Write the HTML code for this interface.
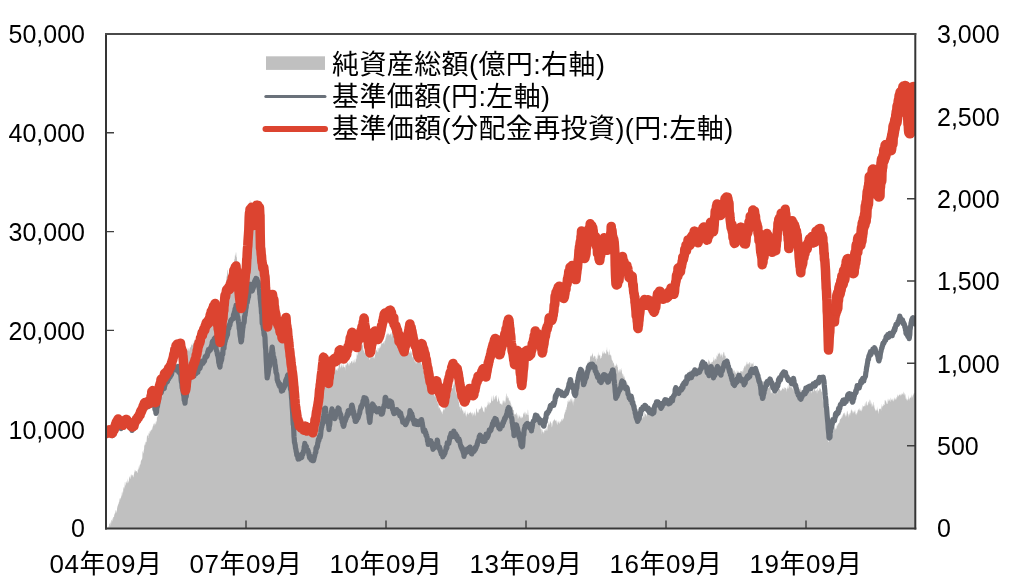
<!DOCTYPE html>
<html><head><meta charset="utf-8"><style>
html,body{margin:0;padding:0;background:#fff;}
body{width:1024px;height:588px;overflow:hidden;position:relative;}
svg{position:absolute;left:0;top:0;}
text{font-family:"Liberation Sans", "Noto Sans CJK JP", sans-serif;fill:#000;}
</style></head><body>
<svg width="1024" height="588" viewBox="0 0 1024 588">
<defs><clipPath id="pc"><rect x="106" y="34" width="809" height="494"/></clipPath></defs>
<g clip-path="url(#pc)">
<path d="M106.0 527.1L106.3 528.0L106.6 527.1L106.9 527.7L107.2 528.0L107.5 527.4L107.8 527.5L108.1 527.7L108.4 525.7L108.7 526.8L109.0 528.0L109.3 524.0L109.6 524.1L109.9 522.8L110.2 526.4L110.5 521.1L110.8 522.9L111.1 523.7L111.4 519.9L111.7 520.5L112.0 519.3L112.3 517.8L112.6 520.5L112.9 521.7L113.2 517.7L113.5 516.7L113.8 516.9L114.1 516.8L114.4 512.4L114.7 514.9L115.0 513.8L115.3 510.0L115.6 510.6L115.9 513.6L116.2 512.5L116.5 509.7L116.8 512.5L117.1 508.3L117.4 506.9L117.7 505.5L118.0 505.4L118.3 502.9L118.6 504.8L118.9 502.1L119.2 502.0L119.5 500.1L119.8 497.7L120.1 499.9L120.4 497.3L120.7 498.8L121.0 498.1L121.3 495.0L121.6 497.1L121.9 491.8L122.2 495.9L122.5 490.5L122.8 492.7L123.1 492.6L123.4 487.6L123.7 487.1L124.0 489.3L124.3 487.8L124.6 486.4L124.9 482.0L125.2 482.1L125.5 484.9L125.8 486.1L126.1 482.8L126.4 480.8L126.7 482.4L127.0 483.5L127.3 483.0L127.6 480.4L127.9 478.2L128.2 483.4L128.5 480.5L128.8 482.5L129.1 475.7L129.4 479.0L129.7 476.9L130.0 476.3L130.3 479.3L130.6 478.3L130.9 474.3L131.2 477.0L131.5 474.6L131.8 474.6L132.1 475.0L132.4 475.0L132.7 476.7L133.0 474.1L133.3 477.4L133.6 476.9L133.9 474.4L134.2 473.3L134.5 469.3L134.8 472.6L135.1 471.4L135.4 471.4L135.7 469.7L136.0 470.8L136.3 471.2L136.6 471.0L136.9 471.7L137.2 472.4L137.5 473.3L137.8 469.3L138.1 469.7L138.4 469.5L138.7 467.7L139.0 465.5L139.3 468.7L139.6 465.9L139.9 464.6L140.2 464.8L140.5 463.9L140.8 461.7L141.1 459.9L141.4 460.8L141.7 459.5L142.0 459.1L142.3 458.3L142.6 451.4L142.9 451.3L143.2 453.8L143.5 452.6L143.8 449.9L144.1 449.2L144.4 442.9L144.7 445.9L145.0 444.7L145.3 444.7L145.6 441.3L145.9 442.6L146.2 442.3L146.5 441.7L146.8 438.5L147.1 434.6L147.4 436.4L147.7 436.1L148.0 434.8L148.3 437.9L148.6 434.1L148.9 432.4L149.2 432.9L149.5 434.1L149.8 431.1L150.1 430.6L150.4 430.6L150.7 432.4L151.0 431.1L151.3 429.4L151.6 430.2L151.9 429.0L152.2 425.9L152.5 429.9L152.8 427.7L153.1 424.0L153.4 423.5L153.7 425.6L154.0 426.4L154.3 424.5L154.6 422.5L154.9 424.2L155.2 421.0L155.5 424.8L155.8 424.2L156.1 423.4L156.4 420.7L156.7 421.9L157.0 415.8L157.3 417.2L157.6 417.2L157.9 413.0L158.2 412.8L158.5 409.7L158.8 405.2L159.1 405.1L159.4 401.7L159.7 401.6L160.0 397.8L160.3 397.3L160.6 397.9L160.9 398.6L161.2 397.0L161.5 395.0L161.8 396.1L162.1 397.2L162.4 391.3L162.7 393.3L163.0 386.8L163.3 389.7L163.6 393.0L163.9 391.7L164.2 388.9L164.5 388.0L164.8 388.1L165.1 388.9L165.4 385.5L165.7 386.7L166.0 385.8L166.3 386.7L166.6 385.3L166.9 384.5L167.2 382.2L167.5 382.2L167.8 379.3L168.1 383.9L168.4 381.1L168.7 378.4L169.0 381.2L169.3 379.5L169.6 377.4L169.9 374.6L170.2 375.4L170.5 374.8L170.8 375.7L171.1 372.9L171.4 372.0L171.7 376.4L172.0 374.6L172.3 373.4L172.6 370.9L172.9 372.8L173.2 373.1L173.5 372.0L173.8 371.0L174.1 370.1L174.4 370.8L174.7 367.5L175.0 368.0L175.3 368.1L175.6 367.5L175.9 369.9L176.2 364.5L176.5 367.7L176.8 364.6L177.1 364.7L177.4 366.2L177.7 362.6L178.0 365.0L178.3 368.6L178.6 364.9L178.9 364.4L179.2 363.6L179.5 364.9L179.8 360.2L180.1 363.2L180.4 362.1L180.7 365.6L181.0 361.4L181.3 360.6L181.6 360.1L181.9 358.1L182.2 361.4L182.5 361.7L182.8 357.7L183.1 359.2L183.4 357.5L183.7 358.1L184.0 357.1L184.3 354.2L184.6 353.5L184.9 355.2L185.2 350.5L185.5 352.3L185.8 351.7L186.1 350.5L186.4 352.5L186.7 351.9L187.0 351.5L187.3 346.5L187.6 351.2L187.9 350.0L188.2 351.4L188.5 348.6L188.8 348.2L189.1 348.6L189.4 351.9L189.7 349.6L190.0 346.8L190.3 347.0L190.6 347.9L190.9 347.1L191.2 345.3L191.5 344.9L191.8 343.4L192.1 345.4L192.4 344.6L192.7 346.1L193.0 340.8L193.3 343.4L193.6 342.2L193.9 344.6L194.2 342.2L194.5 341.1L194.8 338.4L195.1 342.5L195.4 342.5L195.7 343.3L196.0 339.6L196.3 344.1L196.6 338.0L196.9 339.1L197.2 338.7L197.5 339.3L197.8 338.1L198.1 336.4L198.4 336.1L198.7 339.2L199.0 337.3L199.3 338.3L199.6 335.3L199.9 335.7L200.2 335.0L200.5 335.0L200.8 330.0L201.1 330.7L201.4 333.0L201.7 330.4L202.0 330.4L202.3 329.0L202.6 326.1L202.9 326.2L203.2 328.0L203.5 325.2L203.8 328.6L204.1 322.6L204.4 321.3L204.7 324.2L205.0 323.4L205.3 327.1L205.6 324.0L205.9 324.0L206.2 320.9L206.5 323.7L206.8 323.5L207.1 325.1L207.4 320.9L207.7 321.0L208.0 319.0L208.3 320.2L208.6 316.5L208.9 317.2L209.2 315.2L209.5 317.2L209.8 315.1L210.1 313.4L210.4 312.4L210.7 316.0L211.0 310.6L211.3 308.9L211.6 312.5L211.9 309.7L212.2 310.6L212.5 309.6L212.8 314.0L213.1 307.7L213.4 307.5L213.7 307.0L214.0 307.9L214.3 308.4L214.6 303.9L214.9 306.2L215.2 309.4L215.5 305.8L215.8 311.4L216.1 312.1L216.4 312.9L216.7 314.3L217.0 313.8L217.3 319.4L217.6 317.9L217.9 320.5L218.2 323.1L218.5 318.0L218.8 323.6L219.1 327.0L219.4 328.1L219.7 329.8L220.0 333.7L220.3 330.0L220.6 329.0L220.9 327.2L221.2 320.6L221.5 319.5L221.8 321.9L222.1 317.0L222.4 315.6L222.7 310.8L223.0 310.8L223.3 307.7L223.6 306.6L223.9 306.1L224.2 301.6L224.5 298.6L224.8 300.0L225.1 296.4L225.4 292.6L225.7 290.8L226.0 284.1L226.3 280.9L226.6 274.8L226.9 277.8L227.2 271.8L227.5 269.5L227.8 270.2L228.1 274.9L228.4 277.4L228.7 277.4L229.0 274.5L229.3 278.1L229.6 280.3L229.9 280.6L230.2 281.3L230.5 281.7L230.8 278.0L231.1 276.7L231.4 275.0L231.7 276.1L232.0 274.1L232.3 275.3L232.6 269.2L232.9 266.4L233.2 267.1L233.5 264.0L233.8 263.7L234.1 263.1L234.4 259.1L234.7 259.3L235.0 254.1L235.3 256.8L235.6 254.8L235.9 252.3L236.2 252.5L236.5 257.2L236.8 256.9L237.1 262.0L237.4 260.5L237.7 262.9L238.0 265.5L238.3 270.2L238.6 270.8L238.9 274.3L239.2 276.8L239.5 278.9L239.8 280.3L240.1 286.5L240.4 288.9L240.7 289.3L241.0 293.4L241.3 288.3L241.6 289.1L241.9 285.7L242.2 281.7L242.5 277.8L242.8 278.1L243.1 276.9L243.4 273.1L243.7 273.1L244.0 268.5L244.3 267.0L244.6 265.0L244.9 264.4L245.2 263.8L245.5 258.7L245.8 257.8L246.1 252.6L246.4 247.7L246.7 245.9L247.0 241.4L247.3 238.0L247.6 233.3L247.9 225.3L248.2 218.9L248.5 219.9L248.8 214.0L249.1 209.9L249.4 206.3L249.7 203.1L250.0 199.7L250.3 201.5L250.6 206.6L250.9 202.7L251.2 207.5L251.5 206.2L251.8 208.1L252.1 211.5L252.4 212.6L252.7 210.0L253.0 213.8L253.3 211.6L253.6 216.5L253.9 216.0L254.2 219.7L254.5 221.4L254.8 223.1L255.1 225.2L255.4 225.3L255.7 228.2L256.0 231.5L256.3 238.8L256.6 237.0L256.9 239.3L257.2 244.9L257.5 246.2L257.8 245.7L258.1 245.0L258.4 247.5L258.7 248.8L259.0 246.9L259.3 248.1L259.6 249.1L259.9 249.4L260.2 248.8L260.5 247.5L260.8 250.1L261.1 252.1L261.4 250.4L261.7 247.3L262.0 250.6L262.3 252.9L262.6 258.5L262.9 259.3L263.2 260.5L263.5 263.6L263.8 268.6L264.1 267.8L264.4 269.9L264.7 271.6L265.0 273.0L265.3 277.5L265.6 283.9L265.9 287.6L266.2 294.7L266.5 299.2L266.8 305.8L267.1 312.8L267.4 319.5L267.7 320.5L268.0 319.0L268.3 319.5L268.6 318.1L268.9 317.5L269.2 312.6L269.5 314.3L269.8 314.0L270.1 310.1L270.4 310.0L270.7 308.5L271.0 307.2L271.3 302.4L271.6 303.8L271.9 300.0L272.2 299.4L272.5 299.9L272.8 304.0L273.1 305.5L273.4 305.7L273.7 308.3L274.0 307.1L274.3 307.9L274.6 309.0L274.9 314.0L275.2 314.6L275.5 316.3L275.8 317.5L276.1 322.1L276.4 320.0L276.7 320.0L277.0 326.1L277.3 327.1L277.6 326.9L277.9 325.4L278.2 327.9L278.5 327.8L278.8 327.7L279.1 328.2L279.4 328.6L279.7 332.2L280.0 330.0L280.3 332.2L280.6 333.3L280.9 336.3L281.2 335.7L281.5 338.3L281.8 337.4L282.1 342.1L282.4 337.7L282.7 335.2L283.0 332.8L283.3 331.0L283.6 331.6L283.9 329.9L284.2 326.9L284.5 324.8L284.8 322.7L285.1 326.3L285.4 324.7L285.7 315.8L286.0 318.8L286.3 320.9L286.6 325.9L286.9 332.2L287.2 330.5L287.5 334.6L287.8 342.5L288.1 339.9L288.4 341.6L288.7 346.0L289.0 347.7L289.3 349.9L289.6 352.7L289.9 356.0L290.2 353.9L290.5 358.4L290.8 361.9L291.1 366.6L291.4 367.1L291.7 371.6L292.0 373.6L292.3 376.6L292.6 381.1L292.9 381.0L293.2 388.7L293.5 388.2L293.8 392.4L294.1 397.2L294.4 398.0L294.7 400.7L295.0 406.7L295.3 408.5L295.6 410.9L295.9 414.1L296.2 415.9L296.5 419.9L296.8 420.3L297.1 420.6L297.4 423.2L297.7 422.4L298.0 427.0L298.3 426.1L298.6 431.4L298.9 430.0L299.2 429.9L299.5 431.5L299.8 429.3L300.1 425.8L300.4 428.2L300.7 428.4L301.0 428.8L301.3 429.5L301.6 428.9L301.9 429.4L302.2 428.6L302.5 428.2L302.8 426.7L303.1 429.4L303.4 426.9L303.7 429.8L304.0 430.5L304.3 429.3L304.6 426.3L304.9 429.8L305.2 427.3L305.5 428.0L305.8 433.6L306.1 429.1L306.4 430.9L306.7 428.1L307.0 425.1L307.3 429.9L307.6 430.1L307.9 429.7L308.2 430.1L308.5 427.0L308.8 430.6L309.1 432.8L309.4 433.0L309.7 429.7L310.0 429.3L310.3 430.2L310.6 429.7L310.9 429.1L311.2 430.3L311.5 434.5L311.8 429.0L312.1 426.8L312.4 429.5L312.7 426.4L313.0 427.2L313.3 425.5L313.6 426.5L313.9 425.7L314.2 424.8L314.5 426.8L314.8 425.3L315.1 423.1L315.4 421.0L315.7 416.9L316.0 416.3L316.3 414.6L316.6 411.9L316.9 404.3L317.2 405.3L317.5 405.6L317.8 402.3L318.1 401.4L318.4 399.3L318.7 399.4L319.0 393.6L319.3 393.6L319.6 389.8L319.9 392.9L320.2 389.1L320.5 388.5L320.8 382.9L321.1 378.7L321.4 379.7L321.7 373.7L322.0 373.9L322.3 372.1L322.6 370.5L322.9 371.7L323.2 369.1L323.5 368.2L323.8 369.2L324.1 368.0L324.4 371.7L324.7 371.9L325.0 374.8L325.3 376.9L325.6 371.8L325.9 372.0L326.2 373.1L326.5 373.8L326.8 373.2L327.1 370.5L327.4 378.2L327.7 373.3L328.0 371.8L328.3 369.4L328.6 375.3L328.9 373.0L329.2 373.4L329.5 372.3L329.8 374.8L330.1 374.3L330.4 369.8L330.7 377.9L331.0 373.4L331.3 372.7L331.6 372.7L331.9 373.5L332.2 377.8L332.5 374.2L332.8 371.6L333.1 374.0L333.4 373.4L333.7 373.4L334.0 371.8L334.3 371.3L334.6 372.0L334.9 370.5L335.2 367.9L335.5 369.1L335.8 370.8L336.1 369.3L336.4 370.6L336.7 368.7L337.0 371.1L337.3 370.7L337.6 369.1L337.9 367.8L338.2 368.8L338.5 368.2L338.8 364.8L339.1 362.5L339.4 363.8L339.7 359.9L340.0 362.5L340.3 366.7L340.6 367.0L340.9 368.7L341.2 365.9L341.5 365.5L341.8 363.3L342.1 364.5L342.4 365.9L342.7 368.3L343.0 366.5L343.3 362.4L343.6 366.6L343.9 366.9L344.2 367.1L344.5 367.5L344.8 367.6L345.1 364.9L345.4 364.6L345.7 371.1L346.0 364.1L346.3 365.8L346.6 365.1L346.9 360.6L347.2 364.0L347.5 362.2L347.8 363.4L348.1 361.9L348.4 366.6L348.7 362.9L349.0 364.9L349.3 364.1L349.6 360.4L349.9 366.6L350.2 362.8L350.5 363.1L350.8 363.1L351.1 361.3L351.4 361.0L351.7 362.1L352.0 360.7L352.3 362.8L352.6 364.1L352.9 360.2L353.2 360.0L353.5 362.1L353.8 362.6L354.1 363.6L354.4 360.7L354.7 358.5L355.0 363.7L355.3 361.4L355.6 362.1L355.9 358.1L356.2 359.8L356.5 358.1L356.8 352.7L357.1 355.7L357.4 355.1L357.7 352.9L358.0 351.0L358.3 351.5L358.6 348.8L358.9 346.6L359.2 346.8L359.5 347.9L359.8 346.4L360.1 346.9L360.4 343.5L360.7 341.2L361.0 337.3L361.3 342.1L361.6 341.6L361.9 346.7L362.2 341.6L362.5 345.6L362.8 345.0L363.1 346.5L363.4 351.4L363.7 350.1L364.0 350.4L364.3 353.9L364.6 350.4L364.9 353.3L365.2 350.0L365.5 352.8L365.8 352.5L366.1 353.8L366.4 352.0L366.7 352.9L367.0 357.0L367.3 357.1L367.6 355.6L367.9 354.7L368.2 353.5L368.5 356.0L368.8 356.3L369.1 355.9L369.4 358.3L369.7 359.9L370.0 359.6L370.3 358.1L370.6 357.1L370.9 357.6L371.2 357.0L371.5 355.9L371.8 358.5L372.1 356.5L372.4 354.7L372.7 357.8L373.0 357.6L373.3 358.6L373.6 356.2L373.9 356.6L374.2 359.3L374.5 356.7L374.8 356.5L375.1 352.6L375.4 355.3L375.7 352.8L376.0 351.7L376.3 350.1L376.6 349.6L376.9 350.5L377.2 352.3L377.5 352.1L377.8 347.6L378.1 348.1L378.4 348.1L378.7 352.9L379.0 347.5L379.3 348.1L379.6 349.5L379.9 345.1L380.2 347.4L380.5 344.1L380.8 348.5L381.1 344.9L381.4 342.9L381.7 342.2L382.0 343.8L382.3 343.5L382.6 342.6L382.9 344.2L383.2 341.1L383.5 342.8L383.8 342.5L384.1 344.7L384.4 341.4L384.7 340.9L385.0 340.5L385.3 340.6L385.6 335.8L385.9 339.5L386.2 336.4L386.5 334.0L386.8 335.0L387.1 332.0L387.4 334.1L387.7 333.9L388.0 336.5L388.3 334.1L388.6 333.8L388.9 332.8L389.2 335.4L389.5 333.7L389.8 335.5L390.1 334.7L390.4 334.1L390.7 333.7L391.0 332.3L391.3 334.5L391.6 338.0L391.9 332.2L392.2 331.8L392.5 334.3L392.8 334.1L393.1 333.7L393.4 336.4L393.7 335.5L394.0 335.6L394.3 334.1L394.6 335.2L394.9 336.6L395.2 334.1L395.5 334.6L395.8 336.7L396.1 334.2L396.4 339.7L396.7 336.5L397.0 336.7L397.3 339.3L397.6 340.9L397.9 338.5L398.2 339.0L398.5 340.2L398.8 343.3L399.1 342.8L399.4 349.8L399.7 347.3L400.0 339.8L400.3 342.9L400.6 346.0L400.9 349.7L401.2 343.9L401.5 347.3L401.8 349.8L402.1 346.2L402.4 346.9L402.7 348.1L403.0 350.8L403.3 348.4L403.6 350.0L403.9 347.5L404.2 351.3L404.5 350.7L404.8 348.0L405.1 348.6L405.4 348.8L405.7 348.9L406.0 350.3L406.3 351.7L406.6 351.3L406.9 351.4L407.2 349.9L407.5 349.5L407.8 352.9L408.1 351.8L408.4 355.0L408.7 352.6L409.0 352.7L409.3 352.6L409.6 353.0L409.9 351.2L410.2 350.2L410.5 351.4L410.8 354.5L411.1 351.1L411.4 352.5L411.7 353.3L412.0 356.5L412.3 358.4L412.6 355.7L412.9 357.2L413.2 356.3L413.5 356.0L413.8 357.1L414.1 357.2L414.4 360.5L414.7 362.3L415.0 359.5L415.3 358.8L415.6 363.9L415.9 361.3L416.2 364.5L416.5 358.2L416.8 363.7L417.1 361.2L417.4 361.5L417.7 362.7L418.0 362.4L418.3 358.0L418.6 359.4L418.9 353.6L419.2 357.4L419.5 358.4L419.8 357.5L420.1 361.8L420.4 361.2L420.7 363.3L421.0 361.5L421.3 363.4L421.6 364.7L421.9 365.1L422.2 366.1L422.5 367.3L422.8 367.5L423.1 368.5L423.4 370.4L423.7 371.7L424.0 371.1L424.3 374.9L424.6 376.0L424.9 373.7L425.2 376.4L425.5 377.4L425.8 377.8L426.1 383.1L426.4 380.3L426.7 381.9L427.0 380.6L427.3 382.2L427.6 384.3L427.9 383.7L428.2 384.1L428.5 385.4L428.8 385.1L429.1 386.6L429.4 389.6L429.7 388.4L430.0 387.6L430.3 385.8L430.6 386.9L430.9 387.7L431.2 392.3L431.5 387.6L431.8 390.8L432.1 390.2L432.4 393.5L432.7 392.3L433.0 390.8L433.3 390.3L433.6 394.7L433.9 392.5L434.2 396.2L434.5 396.7L434.8 393.9L435.1 395.6L435.4 397.6L435.7 395.4L436.0 396.2L436.3 398.0L436.6 400.2L436.9 401.2L437.2 399.5L437.5 402.7L437.8 403.7L438.1 403.3L438.4 403.4L438.7 406.6L439.0 409.6L439.3 407.4L439.6 407.8L439.9 406.9L440.2 408.9L440.5 410.4L440.8 409.9L441.1 411.2L441.4 411.6L441.7 411.9L442.0 413.5L442.3 414.6L442.6 410.8L442.9 412.5L443.2 406.7L443.5 411.1L443.8 409.4L444.1 408.7L444.4 410.8L444.7 407.9L445.0 407.4L445.3 405.9L445.6 407.3L445.9 403.4L446.2 403.1L446.5 402.6L446.8 406.7L447.1 400.9L447.4 399.3L447.7 400.9L448.0 399.1L448.3 395.3L448.6 398.6L448.9 395.9L449.2 396.9L449.5 394.4L449.8 394.0L450.1 391.0L450.4 395.3L450.7 390.7L451.0 391.4L451.3 392.8L451.6 388.7L451.9 387.8L452.2 389.1L452.5 387.6L452.8 388.5L453.1 384.2L453.4 384.9L453.7 387.3L454.0 380.2L454.3 382.9L454.6 385.0L454.9 382.7L455.2 385.8L455.5 388.7L455.8 393.2L456.1 391.3L456.4 395.3L456.7 394.0L457.0 394.6L457.3 395.1L457.6 394.4L457.9 396.8L458.2 397.1L458.5 400.9L458.8 401.7L459.1 403.2L459.4 405.8L459.7 407.6L460.0 406.4L460.3 406.3L460.6 411.2L460.9 406.5L461.2 406.5L461.5 408.6L461.8 408.0L462.1 411.1L462.4 408.9L462.7 411.6L463.0 409.4L463.3 411.6L463.6 412.5L463.9 414.4L464.2 412.2L464.5 413.7L464.8 411.3L465.1 410.0L465.4 412.0L465.7 414.5L466.0 416.4L466.3 413.8L466.6 417.7L466.9 413.8L467.2 414.2L467.5 413.0L467.8 411.3L468.1 415.6L468.4 413.0L468.7 414.9L469.0 412.1L469.3 413.4L469.6 412.9L469.9 412.7L470.2 412.1L470.5 413.4L470.8 411.0L471.1 412.8L471.4 414.9L471.7 412.4L472.0 413.5L472.3 411.7L472.6 413.7L472.9 416.7L473.2 415.1L473.5 414.5L473.8 412.9L474.1 413.8L474.4 410.9L474.7 412.7L475.0 416.7L475.3 411.7L475.6 416.4L475.9 414.3L476.2 409.4L476.5 408.4L476.8 408.2L477.1 411.6L477.4 412.1L477.7 413.4L478.0 410.9L478.3 413.2L478.6 412.1L478.9 408.9L479.2 410.0L479.5 409.0L479.8 409.6L480.1 409.0L480.4 407.9L480.7 409.5L481.0 407.1L481.3 405.5L481.6 406.8L481.9 407.9L482.2 407.3L482.5 408.0L482.8 408.9L483.1 411.5L483.4 412.1L483.7 409.9L484.0 412.5L484.3 412.3L484.6 408.8L484.9 406.0L485.2 408.1L485.5 407.2L485.8 407.3L486.1 405.4L486.4 409.5L486.7 406.3L487.0 407.0L487.3 404.8L487.6 405.6L487.9 401.2L488.2 404.3L488.5 400.6L488.8 405.8L489.1 402.5L489.4 402.1L489.7 405.6L490.0 403.7L490.3 402.7L490.6 403.1L490.9 402.2L491.2 400.4L491.5 398.8L491.8 395.3L492.1 400.9L492.4 401.2L492.7 401.3L493.0 394.8L493.3 395.7L493.6 397.3L493.9 401.1L494.2 399.3L494.5 399.2L494.8 397.3L495.1 396.3L495.4 395.6L495.7 396.7L496.0 399.4L496.3 395.6L496.6 394.7L496.9 398.4L497.2 400.5L497.5 402.1L497.8 401.7L498.1 400.3L498.4 396.1L498.7 398.2L499.0 399.3L499.3 401.4L499.6 400.7L499.9 404.1L500.2 403.7L500.5 403.6L500.8 403.4L501.1 404.0L501.4 404.4L501.7 404.9L502.0 402.3L502.3 405.8L502.6 402.8L502.9 400.1L503.2 401.4L503.5 399.4L503.8 402.2L504.1 403.8L504.4 401.2L504.7 401.4L505.0 399.5L505.3 403.5L505.6 401.0L505.9 395.6L506.2 398.8L506.5 394.3L506.8 392.9L507.1 395.9L507.4 396.0L507.7 398.9L508.0 397.0L508.3 397.7L508.6 398.3L508.9 400.3L509.2 402.0L509.5 400.4L509.8 400.3L510.1 400.4L510.4 402.8L510.7 402.7L511.0 407.2L511.3 407.2L511.6 403.4L511.9 406.5L512.2 406.6L512.5 407.0L512.8 408.2L513.1 409.9L513.4 410.0L513.7 410.3L514.0 411.9L514.3 415.8L514.6 413.8L514.9 414.4L515.2 413.8L515.5 415.1L515.8 413.9L516.1 412.9L516.4 412.3L516.7 414.6L517.0 416.4L517.3 413.8L517.6 415.5L517.9 419.0L518.2 417.4L518.5 414.1L518.8 419.3L519.1 416.8L519.4 414.2L519.7 417.0L520.0 416.3L520.3 418.4L520.6 415.8L520.9 418.8L521.2 415.8L521.5 418.1L521.8 418.8L522.1 416.3L522.4 417.2L522.7 418.3L523.0 416.6L523.3 412.1L523.6 414.5L523.9 412.9L524.2 415.4L524.5 411.1L524.8 413.4L525.1 412.1L525.4 417.6L525.7 411.3L526.0 414.8L526.3 412.4L526.6 413.7L526.9 415.1L527.2 414.9L527.5 414.4L527.8 409.5L528.1 410.0L528.4 415.1L528.7 414.9L529.0 419.7L529.3 424.3L529.6 423.6L529.9 426.6L530.2 427.4L530.5 426.7L530.8 426.7L531.1 426.3L531.4 427.4L531.7 426.4L532.0 425.4L532.3 424.8L532.6 423.2L532.9 424.3L533.2 425.0L533.5 427.5L533.8 421.7L534.1 423.0L534.4 424.7L534.7 424.9L535.0 423.2L535.3 425.0L535.6 418.6L535.9 420.0L536.2 418.6L536.5 418.9L536.8 420.1L537.1 415.0L537.4 418.5L537.7 416.5L538.0 417.2L538.3 416.1L538.6 419.0L538.9 420.9L539.2 425.0L539.5 421.6L539.8 425.0L540.1 426.2L540.4 426.0L540.7 429.8L541.0 427.9L541.3 429.2L541.6 429.2L541.9 434.7L542.2 429.6L542.5 429.8L542.8 432.6L543.1 431.5L543.4 432.1L543.7 432.8L544.0 434.1L544.3 430.5L544.6 430.5L544.9 430.1L545.2 430.7L545.5 430.8L545.8 428.4L546.1 428.7L546.4 431.6L546.7 427.0L547.0 430.9L547.3 430.0L547.6 425.4L547.9 427.0L548.2 423.5L548.5 425.1L548.8 421.1L549.1 425.5L549.4 422.5L549.7 425.3L550.0 420.5L550.3 423.0L550.6 420.8L550.9 422.6L551.2 423.0L551.5 423.7L551.8 427.4L552.1 426.4L552.4 424.4L552.7 421.9L553.0 421.0L553.3 420.1L553.6 420.4L553.9 422.1L554.2 419.5L554.5 420.0L554.8 418.4L555.1 419.9L555.4 421.6L555.7 420.0L556.0 421.3L556.3 419.4L556.6 422.0L556.9 423.5L557.2 425.2L557.5 423.3L557.8 420.9L558.1 422.3L558.4 423.0L558.7 420.2L559.0 423.0L559.3 424.1L559.6 420.6L559.9 423.7L560.2 422.1L560.5 421.3L560.8 422.0L561.1 419.2L561.4 421.9L561.7 419.1L562.0 418.9L562.3 420.9L562.6 417.5L562.9 421.4L563.2 418.5L563.5 418.7L563.8 418.2L564.1 415.2L564.4 414.2L564.7 413.2L565.0 411.8L565.3 412.4L565.6 410.1L565.9 409.2L566.2 410.6L566.5 407.0L566.8 407.4L567.1 404.7L567.4 404.1L567.7 401.2L568.0 400.4L568.3 402.5L568.6 402.2L568.9 398.9L569.2 400.7L569.5 402.2L569.8 400.6L570.1 398.8L570.4 398.9L570.7 403.0L571.0 396.8L571.3 399.4L571.6 401.7L571.9 397.9L572.2 402.9L572.5 397.8L572.8 402.6L573.1 405.9L573.4 398.7L573.7 401.0L574.0 402.4L574.3 399.1L574.6 398.7L574.9 395.4L575.2 396.8L575.5 395.3L575.8 394.4L576.1 394.0L576.4 393.1L576.7 390.2L577.0 387.9L577.3 386.0L577.6 385.7L577.9 386.3L578.2 386.9L578.5 384.6L578.8 385.0L579.1 383.2L579.4 381.5L579.7 379.4L580.0 381.0L580.3 379.6L580.6 379.2L580.9 377.6L581.2 378.4L581.5 378.3L581.8 378.9L582.1 374.5L582.4 378.9L582.7 376.4L583.0 374.3L583.3 373.2L583.6 374.8L583.9 373.0L584.2 368.1L584.5 371.8L584.8 371.6L585.1 371.7L585.4 370.1L585.7 371.8L586.0 369.3L586.3 369.5L586.6 370.8L586.9 367.5L587.2 366.5L587.5 366.4L587.8 361.9L588.1 361.2L588.4 363.6L588.7 362.6L589.0 359.9L589.3 363.3L589.6 362.5L589.9 359.7L590.2 356.2L590.5 356.8L590.8 355.0L591.1 357.6L591.4 355.0L591.7 356.5L592.0 354.8L592.3 352.2L592.6 355.5L592.9 353.3L593.2 358.0L593.5 357.8L593.8 356.4L594.1 355.4L594.4 355.7L594.7 356.3L595.0 356.9L595.3 355.8L595.6 359.3L595.9 359.0L596.2 357.2L596.5 359.0L596.8 362.3L597.1 358.4L597.4 359.3L597.7 355.7L598.0 354.2L598.3 356.2L598.6 351.6L598.9 356.3L599.2 355.9L599.5 354.2L599.8 355.4L600.1 355.1L600.4 357.9L600.7 359.1L601.0 357.9L601.3 358.1L601.6 355.9L601.9 356.1L602.2 350.5L602.5 354.9L602.8 352.7L603.1 350.0L603.4 354.6L603.7 352.8L604.0 353.8L604.3 351.2L604.6 352.2L604.9 353.7L605.2 353.4L605.5 354.1L605.8 352.7L606.1 354.6L606.4 349.7L606.7 350.4L607.0 346.6L607.3 351.9L607.6 351.2L607.9 352.3L608.2 354.6L608.5 355.8L608.8 351.3L609.1 352.4L609.4 348.7L609.7 355.0L610.0 355.0L610.3 353.9L610.6 355.4L610.9 355.5L611.2 355.6L611.5 358.1L611.8 359.8L612.1 360.7L612.4 361.1L612.7 359.5L613.0 364.7L613.3 362.3L613.6 363.2L613.9 362.0L614.2 366.7L614.5 366.9L614.8 364.1L615.1 366.9L615.4 364.6L615.7 366.6L616.0 365.8L616.3 363.0L616.6 364.2L616.9 366.3L617.2 364.4L617.5 366.9L617.8 367.0L618.1 370.6L618.4 369.9L618.7 372.1L619.0 373.3L619.3 368.6L619.6 372.5L619.9 369.0L620.2 369.2L620.5 372.9L620.8 370.0L621.1 367.5L621.4 370.2L621.7 370.3L622.0 373.6L622.3 373.6L622.6 373.8L622.9 376.2L623.2 373.5L623.5 376.7L623.8 376.5L624.1 379.2L624.4 375.5L624.7 377.2L625.0 378.5L625.3 383.0L625.6 378.9L625.9 380.6L626.2 383.7L626.5 384.4L626.8 383.1L627.1 384.8L627.4 381.7L627.7 388.1L628.0 385.5L628.3 387.9L628.6 392.5L628.9 387.6L629.2 389.1L629.5 389.7L629.8 394.5L630.1 392.1L630.4 392.0L630.7 393.7L631.0 394.9L631.3 397.2L631.6 397.7L631.9 398.7L632.2 400.6L632.5 400.0L632.8 399.7L633.1 403.8L633.4 404.9L633.7 405.3L634.0 405.3L634.3 407.6L634.6 405.7L634.9 409.5L635.2 410.0L635.5 408.0L635.8 411.1L636.1 411.2L636.4 411.8L636.7 413.1L637.0 410.8L637.3 416.6L637.6 414.8L637.9 417.2L638.2 419.3L638.5 415.4L638.8 414.9L639.1 417.4L639.4 418.9L639.7 418.2L640.0 414.3L640.3 421.6L640.6 418.0L640.9 420.0L641.2 416.3L641.5 417.5L641.8 418.7L642.1 415.8L642.4 419.7L642.7 416.8L643.0 417.8L643.3 416.7L643.6 414.4L643.9 416.3L644.2 417.8L644.5 414.2L644.8 410.8L645.1 414.1L645.4 413.8L645.7 415.1L646.0 413.7L646.3 416.9L646.6 415.5L646.9 414.5L647.2 412.5L647.5 411.4L647.8 412.5L648.1 412.3L648.4 412.3L648.7 412.7L649.0 411.3L649.3 412.6L649.6 413.2L649.9 413.0L650.2 411.3L650.5 413.9L650.8 414.3L651.1 412.9L651.4 411.5L651.7 413.0L652.0 410.9L652.3 417.0L652.6 412.7L652.9 413.1L653.2 409.9L653.5 411.4L653.8 413.0L654.1 411.4L654.4 412.6L654.7 410.2L655.0 410.9L655.3 409.1L655.6 407.4L655.9 405.5L656.2 405.9L656.5 404.2L656.8 407.6L657.1 405.7L657.4 406.0L657.7 404.8L658.0 406.8L658.3 403.4L658.6 407.1L658.9 404.4L659.2 401.6L659.5 401.5L659.8 402.9L660.1 402.7L660.4 400.4L660.7 401.1L661.0 404.9L661.3 402.6L661.6 402.1L661.9 405.2L662.2 403.1L662.5 400.9L662.8 398.9L663.1 402.9L663.4 400.5L663.7 403.5L664.0 399.3L664.3 400.6L664.6 401.7L664.9 401.1L665.2 402.3L665.5 401.3L665.8 402.5L666.1 399.2L666.4 400.6L666.7 402.1L667.0 402.1L667.3 402.4L667.6 399.3L667.9 398.4L668.2 398.4L668.5 399.0L668.8 397.3L669.1 400.7L669.4 398.8L669.7 399.8L670.0 398.8L670.3 400.3L670.6 402.7L670.9 399.8L671.2 399.6L671.5 398.7L671.8 398.7L672.1 395.1L672.4 397.5L672.7 397.3L673.0 396.5L673.3 396.5L673.6 392.7L673.9 390.8L674.2 391.2L674.5 395.2L674.8 392.7L675.1 390.9L675.4 391.2L675.7 391.3L676.0 393.3L676.3 390.8L676.6 391.8L676.9 394.8L677.2 395.2L677.5 393.6L677.8 389.9L678.1 388.2L678.4 391.4L678.7 393.2L679.0 389.1L679.3 388.6L679.6 383.1L679.9 391.1L680.2 385.5L680.5 384.1L680.8 386.0L681.1 383.7L681.4 385.8L681.7 386.9L682.0 382.3L682.3 383.2L682.6 382.6L682.9 382.4L683.2 384.7L683.5 385.5L683.8 382.9L684.1 381.1L684.4 381.0L684.7 380.7L685.0 381.3L685.3 377.6L685.6 379.3L685.9 382.3L686.2 378.1L686.5 379.6L686.8 378.5L687.1 378.6L687.4 375.8L687.7 380.0L688.0 376.8L688.3 376.0L688.6 375.6L688.9 371.6L689.2 372.1L689.5 372.1L689.8 369.2L690.1 372.4L690.4 374.7L690.7 370.2L691.0 372.1L691.3 373.1L691.6 372.1L691.9 372.4L692.2 370.9L692.5 374.0L692.8 370.0L693.1 374.1L693.4 371.1L693.7 371.1L694.0 371.9L694.3 375.4L694.6 370.9L694.9 369.1L695.2 372.9L695.5 370.7L695.8 370.5L696.1 370.8L696.4 372.9L696.7 370.5L697.0 366.3L697.3 368.8L697.6 370.0L697.9 367.6L698.2 368.7L698.5 371.1L698.8 370.2L699.1 366.9L699.4 370.1L699.7 369.6L700.0 367.3L700.3 368.5L700.6 366.2L700.9 365.7L701.2 368.2L701.5 365.7L701.8 365.2L702.1 367.1L702.4 364.8L702.7 365.8L703.0 366.9L703.3 367.3L703.6 367.4L703.9 364.9L704.2 364.0L704.5 363.7L704.8 366.3L705.1 366.2L705.4 365.0L705.7 367.1L706.0 365.9L706.3 363.3L706.6 366.5L706.9 368.3L707.2 364.9L707.5 361.7L707.8 365.5L708.1 363.0L708.4 360.6L708.7 359.1L709.0 360.9L709.3 360.5L709.6 361.9L709.9 362.4L710.2 365.3L710.5 362.1L710.8 363.6L711.1 361.7L711.4 362.4L711.7 363.5L712.0 361.2L712.3 362.0L712.6 361.6L712.9 362.5L713.2 360.3L713.5 360.2L713.8 356.7L714.1 358.1L714.4 361.9L714.7 358.8L715.0 360.9L715.3 359.0L715.6 358.5L715.9 358.7L716.2 360.2L716.5 357.2L716.8 355.1L717.1 355.8L717.4 357.0L717.7 356.1L718.0 352.0L718.3 354.8L718.6 354.1L718.9 353.4L719.2 352.0L719.5 354.1L719.8 353.3L720.1 353.5L720.4 357.6L720.7 355.2L721.0 354.1L721.3 355.6L721.6 355.7L721.9 352.6L722.2 356.9L722.5 357.9L722.8 353.7L723.1 355.5L723.4 352.0L723.7 352.7L724.0 351.6L724.3 353.2L724.6 355.6L724.9 356.1L725.2 355.5L725.5 355.7L725.8 359.0L726.1 360.3L726.4 357.3L726.7 358.4L727.0 358.6L727.3 358.6L727.6 357.9L727.9 359.9L728.2 362.9L728.5 363.8L728.8 364.7L729.1 368.3L729.4 367.0L729.7 366.5L730.0 367.9L730.3 371.3L730.6 369.8L730.9 367.4L731.2 371.0L731.5 371.7L731.8 369.2L732.1 371.7L732.4 368.0L732.7 368.4L733.0 371.1L733.3 371.7L733.6 370.7L733.9 369.6L734.2 370.5L734.5 373.7L734.8 370.1L735.1 371.4L735.4 374.2L735.7 371.4L736.0 373.9L736.3 373.8L736.6 374.8L736.9 369.8L737.2 372.4L737.5 370.0L737.8 372.9L738.1 370.4L738.4 371.8L738.7 375.2L739.0 375.5L739.3 375.4L739.6 376.8L739.9 374.6L740.2 371.2L740.5 371.8L740.8 370.8L741.1 370.9L741.4 370.9L741.7 371.8L742.0 371.4L742.3 372.4L742.6 370.7L742.9 370.1L743.2 371.7L743.5 368.5L743.8 368.3L744.1 366.9L744.4 365.6L744.7 366.1L745.0 368.2L745.3 365.8L745.6 364.2L745.9 366.8L746.2 364.7L746.5 364.1L746.8 361.7L747.1 361.6L747.4 364.7L747.7 364.0L748.0 363.6L748.3 365.0L748.6 363.5L748.9 363.1L749.2 361.8L749.5 362.3L749.8 363.4L750.1 366.7L750.4 366.3L750.7 362.6L751.0 363.1L751.3 364.5L751.6 362.4L751.9 365.5L752.2 364.0L752.5 363.6L752.8 363.8L753.1 361.8L753.4 364.1L753.7 366.5L754.0 369.7L754.3 369.4L754.6 368.9L754.9 367.5L755.2 368.4L755.5 369.9L755.8 371.0L756.1 367.9L756.4 368.4L756.7 368.8L757.0 372.2L757.3 369.6L757.6 371.7L757.9 375.8L758.2 374.2L758.5 375.8L758.8 372.5L759.1 378.1L759.4 376.5L759.7 377.3L760.0 377.4L760.3 378.3L760.6 379.7L760.9 378.0L761.2 381.1L761.5 376.3L761.8 379.1L762.1 381.1L762.4 381.0L762.7 383.5L763.0 381.4L763.3 381.3L763.6 380.7L763.9 386.1L764.2 384.1L764.5 386.5L764.8 381.8L765.1 387.6L765.4 386.4L765.7 385.8L766.0 386.5L766.3 387.5L766.6 388.1L766.9 386.1L767.2 386.7L767.5 386.2L767.8 388.7L768.1 387.1L768.4 388.0L768.7 388.0L769.0 388.7L769.3 386.1L769.6 386.8L769.9 386.0L770.2 387.8L770.5 393.9L770.8 387.2L771.1 389.9L771.4 393.0L771.7 392.4L772.0 393.8L772.3 392.4L772.6 392.9L772.9 391.5L773.2 390.2L773.5 393.0L773.8 392.9L774.1 395.7L774.4 387.9L774.7 387.8L775.0 391.1L775.3 391.5L775.6 392.7L775.9 388.5L776.2 390.6L776.5 386.8L776.8 393.5L777.1 386.3L777.4 394.0L777.7 391.4L778.0 388.0L778.3 389.2L778.6 391.0L778.9 389.4L779.2 388.0L779.5 389.5L779.8 388.6L780.1 391.0L780.4 391.3L780.7 390.1L781.0 389.4L781.3 391.0L781.6 389.8L781.9 389.7L782.2 387.2L782.5 389.6L782.8 388.0L783.1 389.4L783.4 389.1L783.7 388.7L784.0 386.6L784.3 390.4L784.6 387.2L784.9 387.4L785.2 387.8L785.5 388.5L785.8 387.6L786.1 388.9L786.4 388.3L786.7 392.3L787.0 389.0L787.3 388.5L787.6 385.4L787.9 388.4L788.2 388.2L788.5 388.7L788.8 383.7L789.1 385.6L789.4 387.6L789.7 383.5L790.0 383.4L790.3 386.4L790.6 388.2L790.9 384.3L791.2 385.6L791.5 388.3L791.8 386.5L792.1 388.7L792.4 386.2L792.7 389.7L793.0 388.9L793.3 390.8L793.6 385.8L793.9 387.2L794.2 386.5L794.5 386.3L794.8 387.0L795.1 389.9L795.4 388.4L795.7 389.1L796.0 388.5L796.3 389.2L796.6 389.8L796.9 388.5L797.2 387.6L797.5 386.7L797.8 388.4L798.1 387.3L798.4 387.2L798.7 387.0L799.0 388.5L799.3 389.3L799.6 391.8L799.9 388.3L800.2 391.7L800.5 386.9L800.8 389.2L801.1 393.2L801.4 389.6L801.7 390.6L802.0 390.0L802.3 395.8L802.6 393.3L802.9 392.0L803.2 392.1L803.5 389.2L803.8 394.0L804.1 397.6L804.4 390.5L804.7 395.7L805.0 394.6L805.3 396.5L805.6 393.0L805.9 394.7L806.2 396.4L806.5 394.7L806.8 395.7L807.1 392.6L807.4 392.4L807.7 390.9L808.0 392.0L808.3 391.6L808.6 391.1L808.9 387.7L809.2 388.6L809.5 389.7L809.8 391.9L810.1 389.1L810.4 389.4L810.7 389.8L811.0 391.2L811.3 393.8L811.6 391.8L811.9 391.7L812.2 390.1L812.5 391.6L812.8 389.9L813.1 391.9L813.4 388.8L813.7 392.3L814.0 389.9L814.3 388.0L814.6 389.2L814.9 386.8L815.2 390.5L815.5 391.3L815.8 390.9L816.1 390.4L816.4 389.7L816.7 390.8L817.0 393.9L817.3 391.8L817.6 389.0L817.9 388.1L818.2 391.5L818.5 390.5L818.8 390.5L819.1 390.4L819.4 388.1L819.7 388.0L820.0 390.7L820.3 388.9L820.6 389.0L820.9 388.1L821.2 390.7L821.5 391.8L821.8 392.0L822.1 391.8L822.4 397.2L822.7 396.0L823.0 402.6L823.3 398.9L823.6 400.8L823.9 405.3L824.2 406.4L824.5 405.9L824.8 403.1L825.1 407.3L825.4 403.4L825.7 407.5L826.0 411.2L826.3 416.6L826.6 421.4L826.9 427.1L827.2 432.5L827.5 436.9L827.8 440.4L828.1 442.0L828.4 440.7L828.7 442.5L829.0 441.1L829.3 440.0L829.6 440.8L829.9 439.5L830.2 439.5L830.5 437.8L830.8 435.2L831.1 435.8L831.4 434.6L831.7 435.2L832.0 433.4L832.3 432.8L832.6 435.0L832.9 434.8L833.2 428.8L833.5 431.8L833.8 429.2L834.1 425.8L834.4 426.4L834.7 427.6L835.0 430.8L835.3 427.5L835.6 430.0L835.9 427.4L836.2 429.3L836.5 428.0L836.8 425.5L837.1 425.2L837.4 426.6L837.7 423.7L838.0 425.2L838.3 422.8L838.6 423.5L838.9 423.6L839.2 423.1L839.5 421.7L839.8 420.3L840.1 419.2L840.4 418.7L840.7 419.4L841.0 418.1L841.3 418.5L841.6 417.6L841.9 416.2L842.2 415.1L842.5 417.9L842.8 415.2L843.1 413.0L843.4 414.9L843.7 413.3L844.0 412.9L844.3 412.4L844.6 415.7L844.9 411.8L845.2 417.5L845.5 415.6L845.8 414.9L846.1 411.0L846.4 414.9L846.7 416.7L847.0 413.0L847.3 411.0L847.6 410.8L847.9 414.0L848.2 414.6L848.5 418.0L848.8 413.6L849.1 415.0L849.4 412.6L849.7 413.9L850.0 416.2L850.3 412.5L850.6 413.2L850.9 410.2L851.2 410.4L851.5 410.6L851.8 408.4L852.1 410.8L852.4 413.9L852.7 410.0L853.0 411.7L853.3 413.7L853.6 411.7L853.9 411.2L854.2 409.9L854.5 411.8L854.8 411.8L855.1 414.2L855.4 414.5L855.7 409.1L856.0 413.4L856.3 415.5L856.6 413.1L856.9 413.3L857.2 410.9L857.5 414.1L857.8 409.9L858.1 410.6L858.4 408.4L858.7 410.5L859.0 408.7L859.3 408.0L859.6 411.2L859.9 409.8L860.2 410.9L860.5 408.6L860.8 411.4L861.1 409.6L861.4 411.6L861.7 411.0L862.0 406.3L862.3 404.6L862.6 410.6L862.9 407.3L863.2 406.4L863.5 406.6L863.8 406.1L864.1 405.8L864.4 406.4L864.7 405.8L865.0 402.6L865.3 407.1L865.6 404.3L865.9 402.0L866.2 401.6L866.5 401.0L866.8 406.0L867.1 403.1L867.4 406.0L867.7 404.7L868.0 405.6L868.3 402.0L868.6 401.3L868.9 402.9L869.2 398.9L869.5 400.5L869.8 403.4L870.1 404.8L870.4 402.9L870.7 399.5L871.0 401.3L871.3 403.4L871.6 403.6L871.9 407.1L872.2 406.4L872.5 403.4L872.8 406.8L873.1 401.8L873.4 402.2L873.7 407.3L874.0 404.2L874.3 405.9L874.6 409.7L874.9 407.3L875.2 411.4L875.5 410.5L875.8 409.0L876.1 411.1L876.4 410.3L876.7 410.0L877.0 407.9L877.3 411.6L877.6 406.2L877.9 410.4L878.2 410.7L878.5 412.2L878.8 414.2L879.1 408.3L879.4 409.1L879.7 409.3L880.0 408.3L880.3 409.0L880.6 409.6L880.9 408.5L881.2 405.7L881.5 411.6L881.8 403.5L882.1 405.3L882.4 408.0L882.7 406.1L883.0 405.7L883.3 406.3L883.6 404.2L883.9 404.0L884.2 405.3L884.5 404.9L884.8 400.0L885.1 399.7L885.4 400.7L885.7 401.8L886.0 400.1L886.3 404.3L886.6 401.4L886.9 404.3L887.2 403.4L887.5 404.2L887.8 398.2L888.1 401.7L888.4 400.6L888.7 398.3L889.0 401.5L889.3 399.1L889.6 401.2L889.9 398.9L890.2 397.2L890.5 400.1L890.8 402.5L891.1 400.4L891.4 398.3L891.7 400.3L892.0 399.6L892.3 398.2L892.6 400.6L892.9 400.6L893.2 401.4L893.5 398.1L893.8 401.9L894.1 399.0L894.4 396.9L894.7 398.8L895.0 400.8L895.3 398.2L895.6 399.9L895.9 397.8L896.2 399.9L896.5 397.4L896.8 396.8L897.1 398.2L897.4 394.0L897.7 395.3L898.0 396.7L898.3 396.5L898.6 395.0L898.9 396.0L899.2 394.9L899.5 395.1L899.8 393.5L900.1 396.6L900.4 394.9L900.7 394.3L901.0 394.5L901.3 393.1L901.6 394.9L901.9 395.4L902.2 394.2L902.5 393.3L902.8 394.5L903.1 391.2L903.4 392.6L903.7 395.4L904.0 392.5L904.3 393.3L904.6 394.3L904.9 396.0L905.2 393.5L905.5 396.0L905.8 398.9L906.1 398.6L906.4 400.8L906.7 397.1L907.0 400.4L907.3 400.8L907.6 399.2L907.9 399.2L908.2 399.7L908.5 394.7L908.8 397.6L909.1 401.1L909.4 397.3L909.7 399.4L910.0 398.3L910.3 397.7L910.6 396.4L910.9 398.2L911.2 395.3L911.5 399.1L911.8 394.6L912.1 394.8L912.4 396.3L912.7 397.9L913.0 395.7L913.3 393.9L913.6 392.9L913.9 395.4L914.2 392.7L914.5 393.1L914.8 392.6L915 528L106 528Z" fill="#c0c0c0"/>
<path d="M106 429.2H114M106 330.4H114M106 231.6H114M106 132.8H114M907 445.7H915M907 363.3H915M907 281.0H915M907 198.7H915M907 116.3H915M246.0 528V520.5M386.0 528V520.5M526.0 528V520.5M666.0 528V520.5M806.0 528V520.5" stroke="#404040" stroke-width="1.4" fill="none"/>
<path d="M106.0 432.8L106.2 432.6L106.5 433.2L106.8 430.8L107.0 432.7L107.2 432.5L107.5 432.4L107.8 433.6L108.0 432.8L108.2 432.5L108.5 433.5L108.8 434.5L109.0 434.2L109.2 432.7L109.5 433.0L109.8 432.3L110.0 434.4L110.2 433.3L110.5 433.9L110.8 431.4L111.0 433.9L111.2 433.6L111.5 434.3L111.8 434.8L112.0 433.3L112.2 433.6L112.5 435.6L112.8 432.2L113.0 432.5L113.2 430.2L113.5 429.4L113.8 431.0L114.0 431.1L114.2 431.5L114.5 430.6L114.8 429.7L115.0 428.5L115.2 427.7L115.5 427.7L115.8 426.7L116.0 425.5L116.2 427.1L116.5 424.6L116.8 424.8L117.0 423.2L117.2 423.5L117.5 422.0L117.8 423.8L118.0 421.2L118.2 421.7L118.5 423.5L118.8 422.1L119.0 423.6L119.2 422.7L119.5 423.2L119.8 426.6L120.0 426.3L120.2 427.1L120.5 426.1L120.8 426.1L121.0 428.6L121.2 424.8L121.5 426.9L121.8 426.6L122.0 427.2L122.2 426.0L122.5 425.1L122.8 425.5L123.0 425.7L123.2 424.2L123.5 426.0L123.8 424.6L124.0 427.0L124.2 425.0L124.5 422.9L124.8 423.8L125.0 422.8L125.2 423.6L125.5 423.3L125.8 422.6L126.0 422.3L126.2 419.9L126.5 423.1L126.8 423.9L127.0 422.5L127.2 422.8L127.5 421.0L127.8 422.4L128.0 422.8L128.2 422.6L128.5 425.5L128.8 425.9L129.0 425.2L129.2 426.9L129.5 425.9L129.8 423.8L130.0 425.4L130.2 426.7L130.5 425.8L130.8 426.5L131.0 423.8L131.2 426.8L131.5 425.7L131.8 428.2L132.0 430.5L132.2 430.2L132.5 429.6L132.8 429.4L133.0 428.9L133.2 427.3L133.5 429.0L133.8 425.7L134.0 425.6L134.2 426.2L134.5 424.1L134.8 424.9L135.0 424.4L135.2 424.3L135.5 423.6L135.8 424.5L136.0 422.1L136.2 424.1L136.5 423.6L136.8 421.1L137.0 422.5L137.2 420.4L137.5 420.4L137.8 419.1L138.0 417.2L138.2 417.7L138.5 415.6L138.8 417.4L139.0 417.5L139.2 415.9L139.5 417.2L139.8 415.7L140.0 416.3L140.2 415.7L140.5 415.4L140.8 415.0L141.0 412.9L141.2 410.5L141.5 409.5L141.8 411.0L142.0 409.3L142.2 410.2L142.5 408.3L142.8 409.6L143.0 410.5L143.2 408.6L143.5 408.8L143.8 407.9L144.0 407.9L144.2 406.9L144.5 406.3L144.8 406.9L145.0 406.4L145.2 405.8L145.5 407.4L145.8 407.2L146.0 405.6L146.2 405.3L146.5 404.7L146.8 403.9L147.0 404.2L147.2 403.1L147.5 404.1L147.8 406.3L148.0 406.1L148.2 406.7L148.5 404.7L148.8 404.6L149.0 403.9L149.2 403.6L149.5 404.3L149.8 403.7L150.0 401.5L150.2 400.0L150.5 398.9L150.8 398.5L151.0 399.7L151.2 397.9L151.5 395.7L151.8 395.8L152.0 393.1L152.2 395.9L152.5 394.4L152.8 395.0L153.0 397.5L153.2 397.5L153.5 398.1L153.8 402.0L154.0 403.6L154.2 404.0L154.5 405.8L154.8 407.5L155.0 409.9L155.2 408.5L155.5 410.6L155.8 411.6L156.0 413.4L156.2 410.8L156.5 412.3L156.8 407.7L157.0 406.9L157.2 407.0L157.5 406.0L157.8 402.7L158.0 401.1L158.2 400.8L158.5 400.0L158.8 398.6L159.0 397.0L159.2 396.0L159.5 393.8L159.8 394.7L160.0 391.5L160.2 392.6L160.5 393.1L160.8 392.0L161.0 391.7L161.2 392.8L161.5 391.8L161.8 389.0L162.0 389.2L162.2 389.3L162.5 387.4L162.8 386.2L163.0 386.2L163.2 387.3L163.5 385.0L163.8 386.5L164.0 388.3L164.2 388.5L164.5 386.6L164.8 385.9L165.0 384.7L165.2 384.7L165.5 381.9L165.8 382.8L166.0 379.4L166.2 381.7L166.5 380.8L166.8 380.9L167.0 382.1L167.2 381.8L167.5 381.3L167.8 379.4L168.0 378.7L168.2 377.6L168.5 378.2L168.8 379.0L169.0 377.4L169.2 377.9L169.5 376.6L169.8 377.4L170.0 377.1L170.2 376.4L170.5 376.0L170.8 374.8L171.0 375.5L171.2 374.6L171.5 374.4L171.8 373.1L172.0 371.2L172.2 369.9L172.5 369.6L172.8 369.2L173.0 367.7L173.2 367.5L173.5 367.6L173.8 366.6L174.0 367.9L174.2 366.9L174.5 368.2L174.8 367.0L175.0 367.9L175.2 366.8L175.5 367.7L175.8 368.6L176.0 367.2L176.2 367.8L176.5 370.1L176.8 367.2L177.0 368.5L177.2 369.7L177.5 366.6L177.8 367.5L178.0 366.8L178.2 366.4L178.5 368.7L178.8 372.3L179.0 370.0L179.2 371.9L179.5 372.1L179.8 371.4L180.0 372.1L180.2 372.0L180.5 373.8L180.8 375.7L181.0 377.3L181.2 380.5L181.5 382.7L181.8 382.8L182.0 386.0L182.2 388.3L182.5 387.0L182.8 390.5L183.0 389.0L183.2 392.1L183.5 394.7L183.8 395.3L184.0 397.1L184.2 400.3L184.5 399.6L184.8 402.0L185.0 403.2L185.2 400.4L185.5 397.6L185.8 397.6L186.0 396.3L186.2 396.8L186.5 393.9L186.8 391.6L187.0 390.9L187.2 389.5L187.5 389.5L187.8 386.8L188.0 385.5L188.2 385.2L188.5 383.1L188.8 380.1L189.0 377.5L189.2 378.4L189.5 376.5L189.8 375.7L190.0 373.6L190.2 373.2L190.5 374.8L190.8 375.1L191.0 375.8L191.2 374.4L191.5 374.0L191.8 373.1L192.0 373.2L192.2 373.7L192.5 372.5L192.8 373.5L193.0 375.7L193.2 375.7L193.5 374.0L193.8 373.9L194.0 375.9L194.2 373.7L194.5 373.1L194.8 374.3L195.0 373.9L195.2 373.2L195.5 372.4L195.8 372.8L196.0 373.8L196.2 372.1L196.5 370.2L196.8 371.2L197.0 369.7L197.2 371.8L197.5 371.3L197.8 372.2L198.0 369.5L198.2 368.2L198.5 368.0L198.8 367.6L199.0 369.1L199.2 365.6L199.5 364.9L199.8 367.4L200.0 368.4L200.2 364.8L200.5 366.7L200.8 365.4L201.0 363.9L201.2 362.7L201.5 363.7L201.8 362.2L202.0 362.1L202.2 361.1L202.5 363.4L202.8 361.8L203.0 363.3L203.2 362.0L203.5 362.5L203.8 361.1L204.0 361.8L204.2 361.4L204.5 361.1L204.8 358.7L205.0 357.4L205.2 356.7L205.5 357.8L205.8 357.6L206.0 356.3L206.2 356.3L206.5 356.5L206.8 354.9L207.0 356.5L207.2 355.1L207.5 354.7L207.8 351.5L208.0 352.4L208.2 352.7L208.5 349.6L208.8 350.3L209.0 350.7L209.2 350.7L209.5 350.7L209.8 348.9L210.0 349.5L210.2 349.0L210.5 349.9L210.8 347.4L211.0 347.6L211.2 348.2L211.5 347.0L211.8 344.7L212.0 344.9L212.2 342.3L212.5 341.5L212.8 342.9L213.0 341.1L213.2 344.3L213.5 341.1L213.8 340.7L214.0 340.3L214.2 338.9L214.5 338.5L214.8 338.1L215.0 340.6L215.2 342.8L215.5 343.4L215.8 344.4L216.0 347.3L216.2 349.5L216.5 350.7L216.8 351.0L217.0 351.6L217.2 353.3L217.5 354.9L217.8 355.3L218.0 356.3L218.2 357.2L218.5 359.3L218.8 362.7L219.0 362.9L219.2 363.8L219.5 365.9L219.8 365.9L220.0 367.1L220.2 364.2L220.5 363.0L220.8 362.6L221.0 360.1L221.2 359.8L221.5 360.2L221.8 358.5L222.0 355.4L222.2 353.5L222.5 353.1L222.8 354.3L223.0 350.7L223.2 348.6L223.5 347.7L223.8 347.8L224.0 348.3L224.2 344.3L224.5 344.4L224.8 342.1L225.0 341.6L225.2 341.3L225.5 339.1L225.8 338.4L226.0 338.5L226.2 337.9L226.5 336.4L226.8 336.4L227.0 334.1L227.2 335.3L227.5 334.5L227.8 330.5L228.0 329.6L228.2 328.6L228.5 326.6L228.8 328.4L229.0 326.6L229.2 325.0L229.5 325.0L229.8 325.4L230.0 324.5L230.2 322.9L230.5 321.5L230.8 320.5L231.0 321.2L231.2 320.1L231.5 319.9L231.8 319.2L232.0 318.9L232.2 319.4L232.5 319.1L232.8 318.1L233.0 318.1L233.2 318.8L233.5 314.5L233.8 314.7L234.0 313.6L234.2 312.9L234.5 311.4L234.8 312.5L235.0 308.8L235.2 309.7L235.5 309.0L235.8 309.5L236.0 305.4L236.2 306.0L236.5 308.5L236.8 311.1L237.0 311.9L237.2 315.2L237.5 316.6L237.8 317.1L238.0 319.0L238.2 319.9L238.5 322.1L238.8 323.9L239.0 325.2L239.2 328.6L239.5 329.0L239.8 332.0L240.0 334.9L240.2 336.3L240.5 337.8L240.8 340.5L241.0 341.9L241.2 341.3L241.5 341.3L241.8 337.4L242.0 337.3L242.2 334.1L242.5 331.1L242.8 328.2L243.0 327.4L243.2 325.1L243.5 323.2L243.8 323.0L244.0 322.9L244.2 321.6L244.5 316.9L244.8 315.7L245.0 315.4L245.2 313.4L245.5 311.8L245.8 309.0L246.0 308.2L246.2 307.1L246.5 303.1L246.8 302.2L247.0 302.0L247.2 302.8L247.5 300.0L247.8 299.4L248.0 297.5L248.2 296.4L248.5 297.0L248.8 293.1L249.0 290.9L249.2 288.4L249.5 287.1L249.8 284.4L250.0 284.9L250.2 284.3L250.5 285.8L250.8 287.2L251.0 287.6L251.2 287.7L251.5 288.3L251.8 290.3L252.0 290.6L252.2 290.9L252.5 290.1L252.8 288.0L253.0 288.1L253.2 288.3L253.5 286.8L253.8 286.6L254.0 283.8L254.2 282.2L254.5 283.5L254.8 282.8L255.0 280.3L255.2 281.6L255.5 282.3L255.8 279.6L256.0 278.3L256.2 280.7L256.5 279.3L256.8 278.9L257.0 280.3L257.2 280.8L257.5 281.0L257.8 281.8L258.0 281.6L258.2 282.1L258.5 284.6L258.8 286.2L259.0 286.7L259.2 288.6L259.5 289.7L259.8 294.8L260.0 294.4L260.2 298.6L260.5 301.0L260.8 304.1L261.0 306.5L261.2 307.3L261.5 313.4L261.8 312.8L262.0 317.8L262.2 323.4L262.5 323.6L262.8 324.2L263.0 325.7L263.2 327.0L263.5 329.7L263.8 330.1L264.0 333.5L264.2 335.2L264.5 334.0L264.8 336.2L265.0 337.6L265.2 343.1L265.5 347.8L265.8 350.3L266.0 356.0L266.2 360.3L266.5 365.4L266.8 372.2L267.0 374.5L267.2 378.0L267.5 374.7L267.8 375.6L268.0 374.2L268.2 373.2L268.5 370.7L268.8 369.3L269.0 367.7L269.2 366.1L269.5 366.5L269.8 361.8L270.0 359.9L270.2 360.0L270.5 358.1L270.8 358.3L271.0 354.2L271.2 354.7L271.5 352.9L271.8 351.0L272.0 348.1L272.2 347.1L272.5 349.5L272.8 352.7L273.0 352.7L273.2 358.3L273.5 356.6L273.8 357.2L274.0 358.8L274.2 361.5L274.5 359.7L274.8 363.1L275.0 366.0L275.2 365.1L275.5 368.0L275.8 369.7L276.0 372.2L276.2 372.7L276.5 373.4L276.8 374.4L277.0 375.8L277.2 380.2L277.5 380.0L277.8 381.7L278.0 382.4L278.2 382.1L278.5 382.1L278.8 384.7L279.0 383.7L279.2 384.9L279.5 386.3L279.8 383.9L280.0 385.6L280.2 385.9L280.5 385.7L280.8 386.5L281.0 387.5L281.2 389.1L281.5 391.2L281.8 388.8L282.0 390.7L282.2 389.9L282.5 389.2L282.8 390.4L283.0 388.1L283.2 387.5L283.5 386.2L283.8 387.1L284.0 387.9L284.2 386.3L284.5 386.7L284.8 384.2L285.0 384.8L285.2 382.9L285.5 382.2L285.8 380.1L286.0 379.9L286.2 380.4L286.5 378.5L286.8 379.9L287.0 379.8L287.2 377.8L287.5 375.5L287.8 375.0L288.0 377.7L288.2 378.1L288.5 378.9L288.8 380.6L289.0 381.1L289.2 382.8L289.5 383.4L289.8 382.4L290.0 386.5L290.2 386.1L290.5 389.5L290.8 389.4L291.0 389.8L291.2 392.6L291.5 397.4L291.8 400.1L292.0 404.2L292.2 407.2L292.5 410.8L292.8 416.2L293.0 420.9L293.2 424.4L293.5 425.1L293.8 431.2L294.0 436.7L294.2 438.3L294.5 442.8L294.8 442.8L295.0 444.3L295.2 444.9L295.5 447.9L295.8 449.0L296.0 449.9L296.2 451.5L296.5 452.5L296.8 455.1L297.0 454.4L297.2 455.0L297.5 454.7L297.8 457.3L298.0 458.6L298.2 459.0L298.5 457.0L298.8 458.0L299.0 457.6L299.2 458.9L299.5 458.1L299.8 458.5L300.0 456.8L300.2 457.5L300.5 456.1L300.8 455.0L301.0 457.0L301.2 455.4L301.5 457.2L301.8 457.4L302.0 454.0L302.2 453.6L302.5 453.5L302.8 454.4L303.0 453.5L303.2 452.8L303.5 450.8L303.8 451.5L304.0 450.9L304.2 446.3L304.5 447.3L304.8 443.4L305.0 444.8L305.2 446.7L305.5 445.9L305.8 447.0L306.0 446.2L306.2 446.1L306.5 447.6L306.8 448.8L307.0 450.4L307.2 450.5L307.5 451.0L307.8 449.9L308.0 451.7L308.2 451.0L308.5 452.4L308.8 453.1L309.0 455.2L309.2 455.3L309.5 457.6L309.8 457.6L310.0 456.0L310.2 456.8L310.5 458.1L310.8 459.3L311.0 458.9L311.2 458.6L311.5 460.2L311.8 460.2L312.0 460.2L312.2 460.4L312.5 458.8L312.8 458.9L313.0 458.1L313.2 459.2L313.5 460.6L313.8 459.5L314.0 458.6L314.2 457.5L314.5 456.8L314.8 455.3L315.0 454.3L315.2 453.1L315.5 452.8L315.8 452.5L316.0 448.2L316.2 447.7L316.5 448.8L316.8 446.5L317.0 446.2L317.2 447.3L317.5 445.8L317.8 442.4L318.0 443.1L318.2 440.4L318.5 439.2L318.8 440.8L319.0 439.6L319.2 438.3L319.5 436.4L319.8 437.8L320.0 437.5L320.2 436.8L320.5 435.8L320.8 432.9L321.0 430.1L321.2 429.5L321.5 427.6L321.8 426.9L322.0 423.9L322.2 425.4L322.5 423.6L322.8 422.0L323.0 419.7L323.2 419.8L323.5 416.8L323.8 416.6L324.0 414.9L324.2 412.2L324.5 408.8L324.8 409.2L325.0 408.5L325.2 408.8L325.5 408.3L325.8 413.2L326.0 414.2L326.2 417.0L326.5 417.6L326.8 419.2L327.0 420.3L327.2 421.2L327.5 422.4L327.8 420.6L328.0 421.9L328.2 423.2L328.5 424.1L328.8 426.4L329.0 429.7L329.2 426.2L329.5 425.9L329.8 423.8L330.0 420.8L330.2 418.9L330.5 418.1L330.8 416.3L331.0 415.3L331.2 413.5L331.5 411.3L331.8 410.5L332.0 408.9L332.2 409.9L332.5 410.3L332.8 411.0L333.0 413.2L333.2 412.7L333.5 414.6L333.8 415.3L334.0 417.2L334.2 417.3L334.5 417.2L334.8 418.6L335.0 417.7L335.2 417.8L335.5 415.5L335.8 413.6L336.0 414.0L336.2 414.0L336.5 413.0L336.8 413.0L337.0 413.5L337.2 411.3L337.5 410.6L337.8 409.7L338.0 408.5L338.2 407.9L338.5 408.9L338.8 409.2L339.0 408.6L339.2 410.4L339.5 413.8L339.8 414.6L340.0 412.8L340.2 413.8L340.5 414.2L340.8 415.0L341.0 418.1L341.2 418.5L341.5 417.7L341.8 419.6L342.0 419.4L342.2 422.1L342.5 422.8L342.8 422.6L343.0 425.4L343.2 425.1L343.5 426.3L343.8 426.1L344.0 425.1L344.2 424.2L344.5 421.4L344.8 421.4L345.0 421.4L345.2 421.3L345.5 419.9L345.8 418.6L346.0 418.1L346.2 418.6L346.5 416.6L346.8 416.0L347.0 415.4L347.2 413.8L347.5 416.1L347.8 413.0L348.0 412.2L348.2 410.6L348.5 410.5L348.8 412.7L349.0 411.8L349.2 411.5L349.5 411.7L349.8 413.3L350.0 412.0L350.2 411.7L350.5 410.9L350.8 410.0L351.0 408.8L351.2 409.7L351.5 405.5L351.8 406.3L352.0 405.1L352.2 405.7L352.5 407.1L352.8 408.6L353.0 410.2L353.2 410.5L353.5 411.3L353.8 412.4L354.0 415.6L354.2 416.8L354.5 417.7L354.8 417.0L355.0 418.6L355.2 421.2L355.5 419.6L355.8 421.5L356.0 421.2L356.2 419.3L356.5 419.1L356.8 420.3L357.0 418.5L357.2 417.5L357.5 417.1L357.8 418.2L358.0 418.2L358.2 417.3L358.5 416.5L358.8 415.3L359.0 414.5L359.2 414.2L359.5 413.5L359.8 412.3L360.0 410.5L360.2 409.7L360.5 409.3L360.8 406.7L361.0 406.6L361.2 406.5L361.5 407.5L361.8 404.9L362.0 404.9L362.2 404.6L362.5 404.9L362.8 403.0L363.0 400.8L363.2 400.8L363.5 402.5L363.8 400.6L364.0 397.5L364.2 398.3L364.5 398.8L364.8 399.4L365.0 398.4L365.2 398.3L365.5 398.0L365.8 398.1L366.0 398.4L366.2 400.0L366.5 399.9L366.8 401.2L367.0 404.5L367.2 404.2L367.5 406.6L367.8 407.5L368.0 410.4L368.2 412.7L368.5 413.5L368.8 412.9L369.0 416.7L369.2 419.0L369.5 420.0L369.8 422.4L370.0 421.6L370.2 418.8L370.5 415.7L370.8 414.1L371.0 413.0L371.2 412.9L371.5 409.4L371.8 409.2L372.0 407.8L372.2 405.3L372.5 404.0L372.8 404.7L373.0 404.5L373.2 404.9L373.5 407.8L373.8 405.9L374.0 406.4L374.2 407.1L374.5 407.5L374.8 407.2L375.0 410.2L375.2 409.3L375.5 408.9L375.8 410.7L376.0 409.3L376.2 409.3L376.5 411.1L376.8 411.9L377.0 409.4L377.2 410.1L377.5 410.4L377.8 411.4L378.0 410.6L378.2 410.8L378.5 410.0L378.8 409.6L379.0 410.5L379.2 408.5L379.5 411.1L379.8 410.8L380.0 412.2L380.2 410.3L380.5 411.7L380.8 411.1L381.0 411.5L381.2 414.2L381.5 412.0L381.8 414.2L382.0 412.4L382.2 413.4L382.5 413.4L382.8 411.1L383.0 411.3L383.2 409.0L383.5 407.2L383.8 407.6L384.0 406.8L384.2 404.8L384.5 404.2L384.8 403.4L385.0 399.4L385.2 397.4L385.5 397.3L385.8 397.7L386.0 399.7L386.2 399.7L386.5 399.6L386.8 401.3L387.0 401.1L387.2 403.7L387.5 402.8L387.8 404.5L388.0 404.3L388.2 405.2L388.5 406.4L388.8 404.1L389.0 405.7L389.2 405.1L389.5 403.7L389.8 400.9L390.0 401.5L390.2 403.3L390.5 403.8L390.8 401.7L391.0 402.6L391.2 402.0L391.5 401.9L391.8 403.0L392.0 404.6L392.2 404.7L392.5 409.6L392.8 408.9L393.0 408.4L393.2 409.5L393.5 412.8L393.8 412.8L394.0 413.5L394.2 412.4L394.5 413.5L394.8 412.8L395.0 412.3L395.2 410.4L395.5 412.3L395.8 412.7L396.0 411.3L396.2 411.0L396.5 412.1L396.8 409.6L397.0 410.3L397.2 410.2L397.5 412.3L397.8 410.9L398.0 411.9L398.2 413.0L398.5 411.1L398.8 412.4L399.0 411.8L399.2 411.8L399.5 413.3L399.8 415.6L400.0 412.5L400.2 414.6L400.5 412.7L400.8 414.0L401.0 414.9L401.2 416.3L401.5 417.5L401.8 417.3L402.0 417.8L402.2 419.4L402.5 420.2L402.8 422.3L403.0 422.5L403.2 422.5L403.5 422.3L403.8 421.6L404.0 421.8L404.2 422.5L404.5 421.0L404.8 422.2L405.0 423.9L405.2 423.2L405.5 424.7L405.8 424.4L406.0 423.1L406.2 423.6L406.5 422.2L406.8 421.1L407.0 422.0L407.2 419.8L407.5 419.5L407.8 419.7L408.0 418.3L408.2 418.1L408.5 418.6L408.8 418.5L409.0 416.6L409.2 416.0L409.5 416.4L409.8 413.2L410.0 410.6L410.2 412.0L410.5 411.8L410.8 412.8L411.0 414.4L411.2 413.0L411.5 414.9L411.8 413.8L412.0 416.1L412.2 418.0L412.5 416.4L412.8 419.2L413.0 418.8L413.2 420.7L413.5 420.7L413.8 419.8L414.0 421.0L414.2 423.9L414.5 423.1L414.8 423.6L415.0 421.4L415.2 421.6L415.5 420.8L415.8 423.3L416.0 422.9L416.2 422.7L416.5 424.4L416.8 422.7L417.0 423.2L417.2 423.3L417.5 422.0L417.8 423.1L418.0 421.7L418.2 424.7L418.5 421.9L418.8 421.9L419.0 423.0L419.2 421.5L419.5 424.2L419.8 421.4L420.0 423.2L420.2 423.0L420.5 420.5L420.8 423.7L421.0 421.6L421.2 422.2L421.5 419.5L421.8 421.0L422.0 422.3L422.2 422.6L422.5 425.2L422.8 426.5L423.0 428.6L423.2 429.5L423.5 431.3L423.8 430.1L424.0 431.2L424.2 430.6L424.5 430.4L424.8 430.0L425.0 432.2L425.2 431.4L425.5 433.6L425.8 432.6L426.0 435.5L426.2 434.9L426.5 434.9L426.8 436.1L427.0 436.8L427.2 438.1L427.5 440.7L427.8 441.8L428.0 441.8L428.2 444.5L428.5 443.6L428.8 443.0L429.0 444.1L429.2 444.1L429.5 443.3L429.8 443.0L430.0 442.2L430.2 442.4L430.5 442.1L430.8 440.7L431.0 444.6L431.2 442.5L431.5 443.7L431.8 442.9L432.0 444.8L432.2 444.9L432.5 447.5L432.8 444.7L433.0 449.3L433.2 449.0L433.5 447.9L433.8 447.4L434.0 446.1L434.2 447.3L434.5 447.5L434.8 446.5L435.0 444.3L435.2 445.1L435.5 444.2L435.8 443.9L436.0 445.2L436.2 444.1L436.5 445.2L436.8 445.4L437.0 442.6L437.2 440.2L437.5 440.5L437.8 443.8L438.0 444.9L438.2 447.3L438.5 447.6L438.8 446.5L439.0 447.3L439.2 448.1L439.5 447.1L439.8 449.6L440.0 448.3L440.2 450.1L440.5 451.4L440.8 452.1L441.0 452.5L441.2 453.9L441.5 453.4L441.8 453.8L442.0 452.9L442.2 454.5L442.5 455.0L442.8 456.8L443.0 456.0L443.2 455.2L443.5 455.5L443.8 454.0L444.0 452.1L444.2 454.8L444.5 451.8L444.8 451.7L445.0 453.3L445.2 451.2L445.5 450.6L445.8 450.1L446.0 449.0L446.2 446.8L446.5 446.6L446.8 448.3L447.0 446.5L447.2 442.8L447.5 444.4L447.8 444.2L448.0 444.2L448.2 443.8L448.5 443.8L448.8 443.4L449.0 441.5L449.2 441.8L449.5 439.1L449.8 436.8L450.0 437.9L450.2 438.0L450.5 436.0L450.8 434.4L451.0 433.4L451.2 433.6L451.5 434.5L451.8 435.4L452.0 433.4L452.2 434.0L452.5 433.4L452.8 435.2L453.0 433.7L453.2 436.4L453.5 433.9L453.8 431.1L454.0 433.3L454.2 434.6L454.5 434.0L454.8 434.1L455.0 434.0L455.2 434.0L455.5 434.3L455.8 434.1L456.0 437.3L456.2 435.8L456.5 437.0L456.8 437.4L457.0 436.0L457.2 439.5L457.5 439.5L457.8 439.2L458.0 438.3L458.2 440.8L458.5 440.6L458.8 439.6L459.0 439.0L459.2 441.2L459.5 440.3L459.8 442.4L460.0 443.0L460.2 443.9L460.5 445.0L460.8 446.5L461.0 446.2L461.2 447.8L461.5 447.4L461.8 447.2L462.0 449.5L462.2 447.7L462.5 448.6L462.8 450.4L463.0 452.0L463.2 451.3L463.5 453.7L463.8 453.7L464.0 456.4L464.2 454.6L464.5 454.3L464.8 453.8L465.0 453.0L465.2 452.7L465.5 452.8L465.8 451.3L466.0 451.7L466.2 449.9L466.5 449.7L466.8 449.6L467.0 449.3L467.2 451.0L467.5 451.8L467.8 450.7L468.0 451.5L468.2 450.9L468.5 450.4L468.8 448.1L469.0 449.2L469.2 448.7L469.5 450.9L469.8 447.8L470.0 447.1L470.2 449.0L470.5 450.9L470.8 450.5L471.0 451.2L471.2 452.2L471.5 453.8L471.8 453.9L472.0 452.6L472.2 452.2L472.5 449.7L472.8 450.2L473.0 452.0L473.2 451.7L473.5 451.2L473.8 449.2L474.0 451.0L474.2 451.2L474.5 450.6L474.8 448.7L475.0 447.7L475.2 447.4L475.5 449.3L475.8 447.7L476.0 447.8L476.2 447.5L476.5 446.1L476.8 445.9L477.0 444.2L477.2 445.2L477.5 442.7L477.8 441.7L478.0 440.7L478.2 441.3L478.5 441.2L478.8 439.6L479.0 439.6L479.2 436.9L479.5 436.0L479.8 436.2L480.0 435.1L480.2 437.2L480.5 437.6L480.8 436.6L481.0 438.4L481.2 437.4L481.5 438.0L481.8 438.9L482.0 436.7L482.2 438.1L482.5 438.4L482.8 439.1L483.0 441.5L483.2 438.8L483.5 440.5L483.8 439.2L484.0 441.4L484.2 440.1L484.5 440.1L484.8 440.4L485.0 441.3L485.2 439.1L485.5 438.2L485.8 437.8L486.0 438.1L486.2 434.0L486.5 434.6L486.8 436.2L487.0 436.2L487.2 437.8L487.5 436.8L487.8 434.3L488.0 436.3L488.2 435.4L488.5 434.1L488.8 432.9L489.0 432.5L489.2 430.2L489.5 430.5L489.8 430.6L490.0 430.1L490.2 431.2L490.5 429.2L490.8 428.9L491.0 430.2L491.2 428.4L491.5 427.7L491.8 426.4L492.0 426.8L492.2 425.4L492.5 423.7L492.8 423.1L493.0 424.9L493.2 425.0L493.5 421.3L493.8 421.6L494.0 422.2L494.2 422.0L494.5 420.7L494.8 419.1L495.0 418.4L495.2 420.4L495.5 422.6L495.8 421.8L496.0 421.9L496.2 419.1L496.5 421.3L496.8 421.2L497.0 423.5L497.2 422.5L497.5 425.0L497.8 424.3L498.0 426.0L498.2 424.9L498.5 426.6L498.8 428.1L499.0 426.3L499.2 426.8L499.5 427.1L499.8 427.7L500.0 429.0L500.2 428.5L500.5 426.8L500.8 426.2L501.0 425.8L501.2 425.2L501.5 426.2L501.8 424.6L502.0 425.3L502.2 426.0L502.5 424.8L502.8 423.1L503.0 422.2L503.2 423.0L503.5 422.9L503.8 420.7L504.0 421.1L504.2 420.9L504.5 418.7L504.8 417.9L505.0 418.5L505.2 418.7L505.5 417.4L505.8 416.6L506.0 416.0L506.2 416.2L506.5 414.6L506.8 414.2L507.0 413.5L507.2 412.3L507.5 410.3L507.8 409.5L508.0 408.7L508.2 408.1L508.5 408.8L508.8 407.5L509.0 408.4L509.2 409.5L509.5 408.9L509.8 412.1L510.0 410.5L510.2 414.2L510.5 413.7L510.8 414.8L511.0 416.1L511.2 417.2L511.5 417.5L511.8 418.4L512.0 419.9L512.2 422.7L512.5 423.2L512.8 426.3L513.0 427.3L513.2 428.8L513.5 429.4L513.8 431.8L514.0 435.6L514.2 433.1L514.5 431.7L514.8 430.2L515.0 430.7L515.2 432.7L515.5 428.3L515.8 424.9L516.0 425.3L516.2 425.8L516.5 424.9L516.8 426.2L517.0 427.3L517.2 427.8L517.5 428.0L517.8 430.3L518.0 431.1L518.2 432.6L518.5 434.5L518.8 433.1L519.0 437.5L519.2 435.4L519.5 436.8L519.8 435.6L520.0 438.6L520.2 440.0L520.5 441.0L520.8 442.4L521.0 445.1L521.2 445.7L521.5 445.4L521.8 446.4L522.0 446.7L522.2 444.7L522.5 446.4L522.8 443.7L523.0 441.1L523.2 436.5L523.5 434.9L523.8 435.0L524.0 431.5L524.2 430.1L524.5 428.6L524.8 427.3L525.0 426.1L525.2 426.5L525.5 425.8L525.8 426.6L526.0 424.6L526.2 426.4L526.5 424.3L526.8 425.2L527.0 424.0L527.2 425.0L527.5 423.5L527.8 423.9L528.0 425.5L528.2 425.3L528.5 424.0L528.8 424.9L529.0 425.1L529.2 425.6L529.5 426.6L529.8 428.2L530.0 427.7L530.2 427.1L530.5 427.2L530.8 428.7L531.0 428.1L531.2 427.6L531.5 430.9L531.8 426.2L532.0 428.3L532.2 426.7L532.5 425.0L532.8 423.1L533.0 421.8L533.2 421.9L533.5 420.9L533.8 420.7L534.0 421.0L534.2 420.1L534.5 420.4L534.8 418.5L535.0 417.2L535.2 417.3L535.5 415.0L535.8 416.2L536.0 416.2L536.2 416.9L536.5 418.6L536.8 415.7L537.0 416.5L537.2 415.9L537.5 417.4L537.8 418.5L538.0 419.1L538.2 419.2L538.5 419.8L538.8 418.4L539.0 419.2L539.2 419.1L539.5 419.4L539.8 422.3L540.0 421.3L540.2 423.0L540.5 422.9L540.8 420.2L541.0 421.4L541.2 422.0L541.5 422.6L541.8 422.1L542.0 423.5L542.2 422.1L542.5 422.6L542.8 423.1L543.0 423.8L543.2 425.5L543.5 424.6L543.8 426.2L544.0 425.7L544.2 424.6L544.5 421.7L544.8 422.2L545.0 422.1L545.2 421.7L545.5 418.3L545.8 417.7L546.0 418.1L546.2 414.7L546.5 413.2L546.8 413.2L547.0 413.3L547.2 413.4L547.5 413.5L547.8 411.8L548.0 412.7L548.2 412.0L548.5 411.3L548.8 411.4L549.0 410.4L549.2 410.4L549.5 408.7L549.8 409.5L550.0 409.1L550.2 406.1L550.5 407.7L550.8 405.4L551.0 406.7L551.2 406.3L551.5 405.2L551.8 405.2L552.0 406.0L552.2 404.5L552.5 404.3L552.8 404.6L553.0 403.5L553.2 403.6L553.5 404.0L553.8 405.3L554.0 404.1L554.2 403.0L554.5 403.2L554.8 400.9L555.0 400.7L555.2 397.5L555.5 395.6L555.8 397.5L556.0 394.9L556.2 396.4L556.5 395.3L556.8 393.8L557.0 392.9L557.2 393.3L557.5 393.9L557.8 391.5L558.0 390.4L558.2 392.4L558.5 392.3L558.8 392.2L559.0 391.9L559.2 391.8L559.5 392.8L559.8 391.2L560.0 392.4L560.2 391.9L560.5 393.2L560.8 391.8L561.0 391.8L561.2 391.8L561.5 392.7L561.8 394.0L562.0 395.2L562.2 394.4L562.5 393.4L562.8 394.9L563.0 393.4L563.2 394.2L563.5 395.2L563.8 394.7L564.0 393.7L564.2 394.6L564.5 395.7L564.8 393.8L565.0 394.6L565.2 394.6L565.5 393.3L565.8 394.0L566.0 392.9L566.2 392.6L566.5 393.5L566.8 390.9L567.0 391.9L567.2 390.7L567.5 389.7L567.8 389.0L568.0 388.5L568.2 388.2L568.5 386.7L568.8 385.9L569.0 383.7L569.2 383.3L569.5 382.6L569.8 383.0L570.0 380.9L570.2 379.6L570.5 379.6L570.8 381.1L571.0 382.1L571.2 384.0L571.5 384.1L571.8 385.1L572.0 384.8L572.2 384.8L572.5 385.2L572.8 385.4L573.0 387.4L573.2 388.5L573.5 388.2L573.8 389.7L574.0 393.1L574.2 390.9L574.5 394.6L574.8 393.6L575.0 394.6L575.2 395.6L575.5 394.0L575.8 394.1L576.0 390.9L576.2 390.3L576.5 386.3L576.8 388.2L577.0 385.7L577.2 383.7L577.5 380.8L577.8 381.0L578.0 379.1L578.2 378.1L578.5 376.2L578.8 374.4L579.0 374.3L579.2 372.9L579.5 374.0L579.8 372.2L580.0 372.2L580.2 371.0L580.5 369.4L580.8 373.1L581.0 372.1L581.2 369.8L581.5 370.5L581.8 371.3L582.0 372.5L582.2 374.4L582.5 375.9L582.8 378.3L583.0 377.6L583.2 380.6L583.5 384.7L583.8 384.6L584.0 383.0L584.2 381.8L584.5 382.9L584.8 381.0L585.0 379.2L585.2 379.8L585.5 377.6L585.8 378.6L586.0 377.5L586.2 377.8L586.5 376.7L586.8 374.8L587.0 374.1L587.2 373.5L587.5 371.8L587.8 370.5L588.0 371.1L588.2 368.2L588.5 366.9L588.8 367.7L589.0 366.0L589.2 368.5L589.5 365.1L589.8 364.9L590.0 366.2L590.2 365.8L590.5 365.4L590.8 364.4L591.0 365.9L591.2 366.9L591.5 364.6L591.8 365.0L592.0 366.1L592.2 364.2L592.5 365.7L592.8 364.6L593.0 366.6L593.2 365.5L593.5 366.3L593.8 367.6L594.0 367.9L594.2 366.7L594.5 368.6L594.8 366.6L595.0 367.9L595.2 371.0L595.5 371.4L595.8 371.9L596.0 372.5L596.2 371.8L596.5 374.2L596.8 374.3L597.0 375.3L597.2 375.3L597.5 377.0L597.8 374.6L598.0 377.0L598.2 377.6L598.5 376.2L598.8 377.1L599.0 376.8L599.2 378.7L599.5 381.0L599.8 380.0L600.0 379.0L600.2 381.6L600.5 381.0L600.8 381.7L601.0 381.9L601.2 382.6L601.5 380.8L601.8 380.4L602.0 380.8L602.2 377.3L602.5 379.1L602.8 377.3L603.0 378.0L603.2 375.3L603.5 376.0L603.8 376.5L604.0 374.5L604.2 377.3L604.5 375.4L604.8 375.1L605.0 375.0L605.2 375.5L605.5 376.0L605.8 375.6L606.0 378.3L606.2 378.7L606.5 378.7L606.8 380.4L607.0 378.7L607.2 380.8L607.5 381.3L607.8 382.2L608.0 380.8L608.2 379.4L608.5 381.9L608.8 380.1L609.0 378.3L609.2 378.2L609.5 375.9L609.8 377.2L610.0 375.3L610.2 375.1L610.5 375.0L610.8 374.8L611.0 375.9L611.2 374.0L611.5 373.0L611.8 372.8L612.0 373.3L612.2 373.5L612.5 370.1L612.8 371.2L613.0 370.0L613.2 370.8L613.5 374.6L613.8 374.4L614.0 380.5L614.2 380.3L614.5 383.8L614.8 385.7L615.0 388.4L615.2 391.4L615.5 394.0L615.8 398.4L616.0 395.8L616.2 395.3L616.5 395.4L616.8 395.7L617.0 396.5L617.2 394.2L617.5 392.6L617.8 394.5L618.0 391.4L618.2 392.2L618.5 392.4L618.8 391.3L619.0 390.4L619.2 390.7L619.5 390.5L619.8 389.9L620.0 389.1L620.2 388.1L620.5 388.8L620.8 386.7L621.0 387.2L621.2 383.8L621.5 383.7L621.8 381.6L622.0 381.0L622.2 382.8L622.5 381.9L622.8 382.2L623.0 382.5L623.2 384.7L623.5 384.1L623.8 382.2L624.0 383.2L624.2 384.5L624.5 385.6L624.8 386.0L625.0 386.1L625.2 387.1L625.5 388.7L625.8 388.0L626.0 388.4L626.2 389.2L626.5 387.0L626.8 389.3L627.0 387.9L627.2 388.1L627.5 390.2L627.8 391.4L628.0 394.2L628.2 394.2L628.5 394.8L628.8 395.5L629.0 396.0L629.2 398.0L629.5 397.7L629.8 397.8L630.0 397.3L630.2 398.6L630.5 399.9L630.8 399.4L631.0 397.8L631.2 396.0L631.5 398.2L631.8 398.4L632.0 401.1L632.2 403.3L632.5 402.4L632.8 402.2L633.0 404.3L633.2 404.5L633.5 405.7L633.8 406.8L634.0 406.2L634.2 408.7L634.5 409.6L634.8 410.1L635.0 410.8L635.2 413.2L635.5 413.6L635.8 415.3L636.0 417.1L636.2 416.6L636.5 418.5L636.8 418.6L637.0 419.8L637.2 419.3L637.5 421.4L637.8 421.1L638.0 419.7L638.2 419.3L638.5 419.7L638.8 419.0L639.0 417.2L639.2 418.6L639.5 416.2L639.8 413.3L640.0 414.4L640.2 413.9L640.5 414.5L640.8 412.5L641.0 409.3L641.2 410.3L641.5 410.1L641.8 410.3L642.0 409.4L642.2 409.6L642.5 408.4L642.8 407.2L643.0 408.7L643.2 408.0L643.5 408.2L643.8 407.4L644.0 408.2L644.2 406.4L644.5 406.8L644.8 405.3L645.0 405.4L645.2 406.5L645.5 407.4L645.8 406.0L646.0 408.6L646.2 408.5L646.5 408.6L646.8 408.4L647.0 408.9L647.2 409.5L647.5 408.0L647.8 410.1L648.0 410.6L648.2 408.2L648.5 409.9L648.8 411.5L649.0 410.7L649.2 412.3L649.5 411.8L649.8 412.6L650.0 412.7L650.2 411.0L650.5 411.4L650.8 411.5L651.0 410.0L651.2 410.1L651.5 410.6L651.8 412.7L652.0 410.8L652.2 411.2L652.5 413.9L652.8 412.0L653.0 412.1L653.2 412.2L653.5 410.4L653.8 412.9L654.0 411.8L654.2 408.4L654.5 406.7L654.8 405.8L655.0 405.2L655.2 405.7L655.5 404.7L655.8 405.2L656.0 404.4L656.2 403.3L656.5 401.8L656.8 403.9L657.0 403.2L657.2 404.5L657.5 403.8L657.8 403.8L658.0 401.9L658.2 403.1L658.5 403.4L658.8 404.2L659.0 403.0L659.2 405.2L659.5 405.2L659.8 405.8L660.0 405.9L660.2 406.4L660.5 406.4L660.8 408.0L661.0 408.3L661.2 407.9L661.5 407.5L661.8 406.3L662.0 406.2L662.2 406.5L662.5 404.1L662.8 403.1L663.0 403.7L663.2 404.2L663.5 403.4L663.8 403.8L664.0 402.3L664.2 402.4L664.5 401.1L664.8 400.1L665.0 399.7L665.2 400.5L665.5 400.1L665.8 400.6L666.0 400.4L666.2 400.8L666.5 401.6L666.8 400.1L667.0 401.8L667.2 400.9L667.5 400.7L667.8 402.9L668.0 402.9L668.2 402.5L668.5 403.9L668.8 402.1L669.0 401.9L669.2 401.7L669.5 400.7L669.8 400.8L670.0 402.8L670.2 403.2L670.5 402.4L670.8 400.1L671.0 400.4L671.2 400.6L671.5 398.3L671.8 399.3L672.0 399.0L672.2 398.4L672.5 401.0L672.8 398.0L673.0 398.0L673.2 396.4L673.5 396.2L673.8 395.9L674.0 395.2L674.2 395.5L674.5 394.4L674.8 394.2L675.0 393.0L675.2 389.2L675.5 389.3L675.8 387.6L676.0 388.6L676.2 391.4L676.5 390.1L676.8 391.5L677.0 390.7L677.2 390.4L677.5 391.9L677.8 393.0L678.0 393.0L678.2 392.3L678.5 392.8L678.8 393.3L679.0 391.1L679.2 390.1L679.5 391.3L679.8 391.0L680.0 390.3L680.2 390.4L680.5 390.2L680.8 388.4L681.0 389.3L681.2 389.2L681.5 388.9L681.8 389.7L682.0 388.9L682.2 387.8L682.5 385.4L682.8 386.9L683.0 387.8L683.2 385.4L683.5 384.2L683.8 383.1L684.0 383.0L684.2 384.1L684.5 384.2L684.8 382.5L685.0 383.1L685.2 381.6L685.5 383.1L685.8 383.7L686.0 383.1L686.2 382.7L686.5 381.0L686.8 379.5L687.0 376.6L687.2 376.5L687.5 376.5L687.8 376.7L688.0 377.4L688.2 379.1L688.5 377.4L688.8 375.4L689.0 374.9L689.2 376.4L689.5 377.0L689.8 375.0L690.0 376.3L690.2 375.3L690.5 376.9L690.8 374.2L691.0 377.0L691.2 375.7L691.5 377.6L691.8 376.1L692.0 374.5L692.2 374.5L692.5 372.9L692.8 373.0L693.0 374.4L693.2 372.5L693.5 372.4L693.8 374.4L694.0 372.0L694.2 371.2L694.5 371.2L694.8 369.9L695.0 371.1L695.2 370.6L695.5 372.6L695.8 372.6L696.0 373.7L696.2 373.4L696.5 373.7L696.8 371.7L697.0 372.8L697.2 372.6L697.5 372.8L697.8 371.6L698.0 371.4L698.2 370.9L698.5 371.9L698.8 371.6L699.0 372.5L699.2 371.8L699.5 372.2L699.8 371.7L700.0 370.0L700.2 369.4L700.5 368.7L700.8 369.6L701.0 369.1L701.2 367.4L701.5 365.0L701.8 364.8L702.0 363.3L702.2 365.7L702.5 363.7L702.8 362.0L703.0 363.4L703.2 363.0L703.5 364.8L703.8 365.4L704.0 364.2L704.2 365.8L704.5 364.9L704.8 366.3L705.0 363.9L705.2 367.3L705.5 367.0L705.8 366.8L706.0 367.8L706.2 366.2L706.5 368.6L706.8 367.8L707.0 371.7L707.2 372.7L707.5 372.6L707.8 371.7L708.0 372.6L708.2 373.5L708.5 373.6L708.8 375.2L709.0 375.6L709.2 373.5L709.5 372.5L709.8 372.8L710.0 369.5L710.2 368.5L710.5 367.6L710.8 366.8L711.0 366.6L711.2 366.7L711.5 368.3L711.8 370.6L712.0 369.1L712.2 371.2L712.5 371.1L712.8 373.4L713.0 374.1L713.2 375.2L713.5 377.9L713.8 376.1L714.0 375.9L714.2 374.4L714.5 374.4L714.8 375.4L715.0 373.7L715.2 373.8L715.5 372.8L715.8 373.4L716.0 372.5L716.2 369.9L716.5 369.7L716.8 367.9L717.0 369.1L717.2 367.3L717.5 366.4L717.8 367.4L718.0 368.0L718.2 370.6L718.5 370.5L718.8 370.8L719.0 372.1L719.2 371.5L719.5 371.2L719.8 373.4L720.0 371.3L720.2 370.8L720.5 372.6L720.8 374.1L721.0 375.2L721.2 372.9L721.5 371.0L721.8 371.3L722.0 371.5L722.2 370.8L722.5 370.6L722.8 367.6L723.0 367.7L723.2 368.0L723.5 366.7L723.8 365.8L724.0 364.0L724.2 364.8L724.5 362.9L724.8 362.5L725.0 364.0L725.2 364.9L725.5 363.2L725.8 363.1L726.0 363.5L726.2 363.8L726.5 362.4L726.8 361.7L727.0 361.2L727.2 362.9L727.5 363.0L727.8 364.9L728.0 365.4L728.2 366.1L728.5 366.8L728.8 368.8L729.0 369.4L729.2 369.8L729.5 371.8L729.8 369.6L730.0 370.7L730.2 373.5L730.5 374.8L730.8 375.3L731.0 374.3L731.2 376.1L731.5 378.4L731.8 375.7L732.0 380.5L732.2 380.4L732.5 379.3L732.8 381.0L733.0 383.7L733.2 381.9L733.5 383.1L733.8 383.3L734.0 383.8L734.2 385.1L734.5 385.4L734.8 384.9L735.0 384.1L735.2 383.9L735.5 383.1L735.8 382.7L736.0 383.1L736.2 381.0L736.5 381.6L736.8 380.5L737.0 379.2L737.2 381.9L737.5 381.2L737.8 380.2L738.0 378.5L738.2 377.0L738.5 377.1L738.8 375.5L739.0 376.1L739.2 375.3L739.5 377.6L739.8 379.5L740.0 378.1L740.2 378.2L740.5 378.9L740.8 378.4L741.0 378.8L741.2 379.1L741.5 379.6L741.8 379.8L742.0 381.2L742.2 380.1L742.5 381.6L742.8 380.1L743.0 380.3L743.2 381.4L743.5 382.4L743.8 383.2L744.0 384.8L744.2 384.1L744.5 383.5L744.8 383.5L745.0 383.4L745.2 382.9L745.5 380.6L745.8 378.9L746.0 378.5L746.2 379.5L746.5 377.8L746.8 379.1L747.0 377.1L747.2 376.5L747.5 377.4L747.8 376.6L748.0 377.5L748.2 377.9L748.5 375.4L748.8 377.3L749.0 376.1L749.2 376.3L749.5 375.4L749.8 376.4L750.0 374.8L750.2 373.2L750.5 372.0L750.8 370.9L751.0 372.7L751.2 372.0L751.5 370.7L751.8 369.3L752.0 369.9L752.2 369.4L752.5 370.3L752.8 371.0L753.0 369.9L753.2 370.4L753.5 372.2L753.8 372.1L754.0 371.1L754.2 371.7L754.5 372.7L754.8 370.5L755.0 369.4L755.2 369.2L755.5 368.5L755.8 371.3L756.0 369.8L756.2 371.5L756.5 371.7L756.8 372.9L757.0 373.1L757.2 374.9L757.5 374.8L757.8 376.8L758.0 375.4L758.2 378.3L758.5 378.4L758.8 381.0L759.0 380.6L759.2 382.3L759.5 382.3L759.8 383.2L760.0 382.7L760.2 385.6L760.5 385.5L760.8 388.9L761.0 390.2L761.2 394.0L761.5 394.2L761.8 394.9L762.0 395.1L762.2 395.9L762.5 398.5L762.8 396.8L763.0 397.8L763.2 395.7L763.5 394.9L763.8 393.0L764.0 393.3L764.2 390.9L764.5 389.3L764.8 389.6L765.0 388.2L765.2 387.5L765.5 387.2L765.8 385.8L766.0 385.3L766.2 383.3L766.5 382.9L766.8 385.1L767.0 382.2L767.2 381.5L767.5 381.3L767.8 382.9L768.0 382.9L768.2 381.4L768.5 381.8L768.8 381.0L769.0 382.5L769.2 382.5L769.5 381.0L769.8 379.4L770.0 379.0L770.2 379.2L770.5 379.9L770.8 381.9L771.0 382.2L771.2 381.7L771.5 383.3L771.8 382.6L772.0 383.0L772.2 385.2L772.5 385.5L772.8 387.7L773.0 386.3L773.2 385.8L773.5 386.3L773.8 387.4L774.0 387.4L774.2 389.8L774.5 389.4L774.8 390.9L775.0 390.1L775.2 389.4L775.5 387.9L775.8 389.6L776.0 387.4L776.2 387.4L776.5 388.3L776.8 387.0L777.0 386.3L777.2 383.9L777.5 383.8L777.8 386.0L778.0 384.7L778.2 382.7L778.5 379.6L778.8 382.5L779.0 381.6L779.2 380.5L779.5 377.8L779.8 377.8L780.0 377.8L780.2 378.2L780.5 379.9L780.8 378.1L781.0 376.6L781.2 375.9L781.5 376.7L781.8 374.6L782.0 374.2L782.2 374.9L782.5 374.6L782.8 373.5L783.0 372.8L783.2 373.7L783.5 373.4L783.8 371.8L784.0 374.6L784.2 373.3L784.5 374.2L784.8 373.3L785.0 372.8L785.2 372.4L785.5 372.5L785.8 374.8L786.0 375.2L786.2 375.8L786.5 376.3L786.8 377.0L787.0 376.6L787.2 377.0L787.5 378.5L787.8 378.6L788.0 379.8L788.2 379.7L788.5 378.9L788.8 379.1L789.0 380.6L789.2 379.4L789.5 379.9L789.8 381.0L790.0 381.2L790.2 381.3L790.5 381.4L790.8 381.5L791.0 382.0L791.2 382.3L791.5 383.6L791.8 381.8L792.0 381.2L792.2 380.9L792.5 380.8L792.8 380.4L793.0 380.5L793.2 381.5L793.5 378.3L793.8 381.3L794.0 380.3L794.2 384.6L794.5 384.2L794.8 384.1L795.0 385.6L795.2 384.7L795.5 385.2L795.8 386.0L796.0 387.9L796.2 388.0L796.5 389.3L796.8 389.9L797.0 391.2L797.2 392.5L797.5 392.5L797.8 393.0L798.0 393.8L798.2 395.2L798.5 394.7L798.8 394.1L799.0 395.6L799.2 395.9L799.5 395.3L799.8 398.3L800.0 394.5L800.2 396.8L800.5 397.4L800.8 398.9L801.0 399.2L801.2 396.8L801.5 396.2L801.8 396.3L802.0 397.1L802.2 396.1L802.5 395.5L802.8 394.9L803.0 394.7L803.2 393.8L803.5 394.2L803.8 393.6L804.0 392.8L804.2 392.0L804.5 392.5L804.8 393.8L805.0 391.9L805.2 393.8L805.5 392.0L805.8 388.1L806.0 389.7L806.2 390.3L806.5 391.5L806.8 390.4L807.0 387.9L807.2 387.4L807.5 388.2L807.8 389.6L808.0 388.4L808.2 387.1L808.5 387.7L808.8 388.3L809.0 386.5L809.2 386.7L809.5 387.5L809.8 386.1L810.0 387.3L810.2 387.4L810.5 388.1L810.8 387.4L811.0 388.6L811.2 387.3L811.5 386.0L811.8 385.6L812.0 386.6L812.2 385.5L812.5 385.6L812.8 385.5L813.0 385.3L813.2 383.8L813.5 385.2L813.8 385.3L814.0 384.7L814.2 384.8L814.5 384.2L814.8 385.5L815.0 386.1L815.2 384.3L815.5 385.3L815.8 382.4L816.0 382.5L816.2 383.7L816.5 382.7L816.8 382.9L817.0 382.5L817.2 381.8L817.5 382.8L817.8 381.1L818.0 382.0L818.2 382.0L818.5 382.8L818.8 382.6L819.0 378.9L819.2 378.8L819.5 377.5L819.8 378.3L820.0 379.4L820.2 378.7L820.5 377.9L820.8 379.4L821.0 379.0L821.2 379.2L821.5 377.5L821.8 378.1L822.0 377.7L822.2 379.2L822.5 378.4L822.8 379.7L823.0 378.3L823.2 377.0L823.5 379.6L823.8 380.1L824.0 381.4L824.2 384.3L824.5 387.5L824.8 390.2L825.0 393.9L825.2 395.6L825.5 397.6L825.8 399.8L826.0 404.3L826.2 406.7L826.5 407.1L826.8 411.0L827.0 413.9L827.2 416.2L827.5 419.7L827.8 422.5L828.0 424.8L828.2 428.7L828.5 431.4L828.8 434.3L829.0 437.5L829.2 438.0L829.5 436.0L829.8 435.6L830.0 437.5L830.2 432.2L830.5 432.0L830.8 429.6L831.0 428.8L831.2 428.5L831.5 427.4L831.8 425.6L832.0 425.0L832.2 424.3L832.5 422.6L832.8 419.5L833.0 421.7L833.2 420.8L833.5 421.3L833.8 420.3L834.0 421.1L834.2 420.3L834.5 420.7L834.8 418.7L835.0 417.6L835.2 417.3L835.5 414.1L835.8 415.8L836.0 415.9L836.2 413.2L836.5 413.5L836.8 412.7L837.0 413.8L837.2 413.9L837.5 412.0L837.8 412.6L838.0 411.2L838.2 413.1L838.5 408.6L838.8 410.1L839.0 411.2L839.2 408.1L839.5 408.7L839.8 408.5L840.0 406.9L840.2 405.3L840.5 404.5L840.8 405.0L841.0 404.6L841.2 404.0L841.5 404.1L841.8 403.5L842.0 402.7L842.2 402.3L842.5 401.2L842.8 401.7L843.0 403.6L843.2 400.1L843.5 401.4L843.8 402.2L844.0 402.0L844.2 402.4L844.5 403.4L844.8 399.8L845.0 401.1L845.2 399.5L845.5 399.7L845.8 400.8L846.0 401.2L846.2 401.7L846.5 399.5L846.8 399.4L847.0 399.1L847.2 398.3L847.5 396.2L847.8 394.8L848.0 396.5L848.2 395.5L848.5 394.2L848.8 395.1L849.0 394.8L849.2 398.3L849.5 393.6L849.8 395.8L850.0 395.9L850.2 395.9L850.5 395.4L850.8 394.1L851.0 396.8L851.2 397.4L851.5 397.7L851.8 400.5L852.0 400.8L852.2 401.7L852.5 402.1L852.8 401.7L853.0 401.0L853.2 399.2L853.5 397.6L853.8 398.5L854.0 394.6L854.2 396.6L854.5 395.0L854.8 393.6L855.0 393.9L855.2 392.7L855.5 393.2L855.8 390.6L856.0 392.7L856.2 391.7L856.5 389.7L856.8 388.5L857.0 387.1L857.2 385.5L857.5 385.8L857.8 387.1L858.0 387.6L858.2 387.4L858.5 388.1L858.8 387.2L859.0 387.3L859.2 388.0L859.5 386.3L859.8 385.9L860.0 384.3L860.2 384.6L860.5 384.0L860.8 381.7L861.0 381.0L861.2 381.7L861.5 382.3L861.8 382.7L862.0 380.9L862.2 379.3L862.5 379.7L862.8 378.4L863.0 379.9L863.2 380.6L863.5 378.6L863.8 381.0L864.0 378.4L864.2 379.1L864.5 377.8L864.8 377.3L865.0 377.1L865.2 376.8L865.5 376.0L865.8 373.0L866.0 371.9L866.2 370.9L866.5 368.5L866.8 366.5L867.0 366.1L867.2 364.6L867.5 363.1L867.8 360.9L868.0 359.3L868.2 359.8L868.5 359.6L868.8 356.1L869.0 357.1L869.2 356.6L869.5 355.9L869.8 353.5L870.0 354.1L870.2 353.9L870.5 351.7L870.8 353.7L871.0 354.6L871.2 351.6L871.5 352.1L871.8 352.3L872.0 352.5L872.2 351.5L872.5 350.8L872.8 349.1L873.0 350.3L873.2 350.2L873.5 350.9L873.8 350.1L874.0 350.4L874.2 348.9L874.5 347.7L874.8 348.6L875.0 348.6L875.2 348.8L875.5 350.8L875.8 352.1L876.0 352.7L876.2 352.9L876.5 352.9L876.8 353.1L877.0 353.8L877.2 354.5L877.5 355.1L877.8 356.3L878.0 356.9L878.2 358.4L878.5 359.9L878.8 360.8L879.0 360.9L879.2 359.8L879.5 357.8L879.8 358.4L880.0 357.3L880.2 355.3L880.5 353.2L880.8 352.0L881.0 351.3L881.2 350.0L881.5 348.9L881.8 347.6L882.0 348.0L882.2 346.0L882.5 346.1L882.8 343.9L883.0 343.2L883.2 343.7L883.5 343.9L883.8 343.1L884.0 342.9L884.2 342.3L884.5 341.3L884.8 340.5L885.0 340.9L885.2 340.0L885.5 340.1L885.8 340.1L886.0 337.0L886.2 337.1L886.5 336.3L886.8 337.5L887.0 337.9L887.2 335.9L887.5 336.9L887.8 334.7L888.0 336.0L888.2 335.9L888.5 336.8L888.8 337.2L889.0 335.1L889.2 335.8L889.5 334.5L889.8 333.3L890.0 334.3L890.2 335.3L890.5 334.8L890.8 335.1L891.0 334.6L891.2 334.6L891.5 335.4L891.8 333.6L892.0 335.0L892.2 335.7L892.5 333.2L892.8 333.7L893.0 332.4L893.2 331.7L893.5 332.6L893.8 330.4L894.0 330.1L894.2 330.9L894.5 328.3L894.8 330.3L895.0 327.5L895.2 328.5L895.5 326.7L895.8 325.3L896.0 324.4L896.2 325.4L896.5 324.9L896.8 324.9L897.0 324.1L897.2 324.8L897.5 323.8L897.8 323.7L898.0 321.4L898.2 321.1L898.5 320.6L898.8 321.3L899.0 319.3L899.2 318.1L899.5 319.0L899.8 316.0L900.0 317.9L900.2 317.3L900.5 320.4L900.8 318.4L901.0 319.6L901.2 321.7L901.5 320.8L901.8 321.4L902.0 321.6L902.2 321.6L902.5 319.7L902.8 322.3L903.0 321.9L903.2 323.7L903.5 322.3L903.8 324.2L904.0 323.3L904.2 324.2L904.5 325.3L904.8 327.2L905.0 327.5L905.2 326.5L905.5 330.3L905.8 330.4L906.0 333.5L906.2 331.5L906.5 331.0L906.8 331.8L907.0 334.4L907.2 335.2L907.5 334.6L907.8 336.3L908.0 335.6L908.2 335.9L908.5 336.4L908.8 336.6L909.0 336.9L909.2 338.6L909.5 336.6L909.8 334.9L910.0 330.1L910.2 329.1L910.5 326.6L910.8 325.4L911.0 323.2L911.2 322.3L911.5 321.5L911.8 319.5L912.0 319.7L912.2 319.4L912.5 318.2L912.8 318.3L913.0 318.0L913.2 317.7L913.5 319.4L913.8 318.0L914.0 319.6L914.2 321.6L914.5 319.9L914.8 322.6L915.0 322.9L915.2 323.0L915.5 324.2" fill="none" stroke="#6a717a" stroke-width="5.2" stroke-linejoin="round" stroke-linecap="round"/>
<path d="M106.0 433.8L106.2 432.3L106.5 431.2L106.8 432.1L107.0 431.0L107.2 431.2L107.5 430.8L107.8 430.5L108.0 430.1L108.2 431.7L108.5 431.2L108.8 431.0L109.0 430.6L109.2 429.8L109.5 432.1L109.8 431.5L110.0 430.2L110.2 431.5L110.5 431.8L110.8 430.0L111.0 431.1L111.2 432.1L111.5 433.6L111.8 432.9L112.0 433.0L112.2 432.5L112.5 433.3L112.8 431.0L113.0 431.6L113.2 431.3L113.5 429.0L113.8 429.4L114.0 430.0L114.2 429.9L114.5 428.9L114.8 426.9L115.0 425.9L115.2 425.4L115.5 425.8L115.8 423.4L116.0 422.9L116.2 422.2L116.5 422.8L116.8 422.2L117.0 421.0L117.2 420.4L117.5 420.7L117.8 421.5L118.0 419.0L118.2 420.5L118.5 420.9L118.8 421.0L119.0 422.1L119.2 422.2L119.5 422.0L119.8 422.9L120.0 423.0L120.2 422.0L120.5 422.5L120.8 422.0L121.0 422.8L121.2 422.5L121.5 422.4L121.8 423.6L122.0 422.4L122.2 423.1L122.5 424.1L122.8 425.3L123.0 423.8L123.2 423.9L123.5 424.6L123.8 423.6L124.0 422.4L124.2 421.2L124.5 421.7L124.8 421.0L125.0 420.3L125.2 420.2L125.5 419.7L125.8 419.6L126.0 421.3L126.2 421.3L126.5 419.5L126.8 420.5L127.0 420.1L127.2 420.0L127.5 421.2L127.8 421.3L128.0 421.6L128.2 422.4L128.5 421.9L128.8 423.2L129.0 422.5L129.2 424.0L129.5 423.2L129.8 423.4L130.0 424.2L130.2 423.6L130.5 424.6L130.8 425.5L131.0 425.6L131.2 426.4L131.5 425.9L131.8 426.1L132.0 427.0L132.2 426.9L132.5 425.7L132.8 426.9L133.0 426.1L133.2 426.6L133.5 426.4L133.8 425.0L134.0 426.0L134.2 423.3L134.5 423.5L134.8 423.4L135.0 422.0L135.2 421.9L135.5 421.1L135.8 420.6L136.0 420.2L136.2 420.5L136.5 418.8L136.8 419.6L137.0 419.6L137.2 418.9L137.5 418.2L137.8 418.0L138.0 416.8L138.2 417.7L138.5 417.6L138.8 416.0L139.0 416.1L139.2 415.1L139.5 414.3L139.8 415.0L140.0 413.3L140.2 414.7L140.5 411.9L140.8 411.3L141.0 410.6L141.2 410.9L141.5 411.8L141.8 410.3L142.0 409.2L142.2 410.0L142.5 408.5L142.8 407.3L143.0 407.2L143.2 405.7L143.5 406.4L143.8 407.2L144.0 404.6L144.2 403.5L144.5 404.4L144.8 402.6L145.0 405.1L145.2 402.7L145.5 403.1L145.8 403.4L146.0 404.7L146.2 403.9L146.5 402.1L146.8 402.4L147.0 404.0L147.2 402.6L147.5 403.1L147.8 402.9L148.0 403.9L148.2 404.1L148.5 401.5L148.8 403.8L149.0 403.8L149.2 401.8L149.5 401.4L149.8 399.8L150.0 399.4L150.2 399.3L150.5 398.8L150.8 398.6L151.0 396.5L151.2 395.7L151.5 396.0L151.8 391.7L152.0 391.8L152.2 392.7L152.5 392.7L152.8 390.6L153.0 392.4L153.2 393.0L153.5 394.6L153.8 396.0L154.0 396.3L154.2 398.0L154.5 398.5L154.8 399.8L155.0 400.5L155.2 401.3L155.5 402.7L155.8 402.4L156.0 400.6L156.2 401.2L156.5 399.4L156.8 397.6L157.0 396.3L157.2 395.2L157.5 393.2L157.8 393.9L158.0 392.9L158.2 391.2L158.5 390.3L158.8 389.0L159.0 388.9L159.2 388.3L159.5 385.5L159.8 385.3L160.0 384.0L160.2 384.0L160.5 384.1L160.8 381.7L161.0 379.5L161.2 380.9L161.5 378.9L161.8 382.0L162.0 380.0L162.2 379.3L162.5 379.5L162.8 379.1L163.0 377.8L163.2 378.1L163.5 378.4L163.8 376.3L164.0 377.9L164.2 376.2L164.5 373.5L164.8 375.7L165.0 373.3L165.2 375.1L165.5 376.1L165.8 374.5L166.0 372.1L166.2 371.8L166.5 373.0L166.8 374.0L167.0 371.1L167.2 372.2L167.5 371.1L167.8 371.1L168.0 370.4L168.2 371.7L168.5 368.3L168.8 368.1L169.0 370.3L169.2 369.5L169.5 367.0L169.8 366.8L170.0 366.1L170.2 366.7L170.5 365.6L170.8 366.9L171.0 365.7L171.2 364.2L171.5 362.9L171.8 362.5L172.0 362.2L172.2 360.6L172.5 360.3L172.8 359.9L173.0 357.9L173.2 358.2L173.5 356.1L173.8 354.2L174.0 354.4L174.2 355.3L174.5 354.0L174.8 349.3L175.0 350.5L175.2 349.3L175.5 348.1L175.8 346.9L176.0 345.7L176.2 345.8L176.5 345.1L176.8 345.7L177.0 344.6L177.2 344.1L177.5 344.8L177.8 344.8L178.0 346.3L178.2 344.4L178.5 344.8L178.8 344.7L179.0 346.3L179.2 345.1L179.5 347.0L179.8 345.6L180.0 346.3L180.2 346.7L180.5 343.2L180.8 345.8L181.0 348.5L181.2 347.9L181.5 348.4L181.8 352.3L182.0 351.6L182.2 353.6L182.5 351.1L182.8 355.7L183.0 356.3L183.2 359.1L183.5 363.1L183.8 365.9L184.0 369.5L184.2 370.9L184.5 378.5L184.8 383.5L185.0 386.8L185.2 390.6L185.5 390.5L185.8 389.3L186.0 387.0L186.2 386.3L186.5 381.8L186.8 378.8L187.0 378.5L187.2 377.2L187.5 373.6L187.8 372.6L188.0 370.3L188.2 370.3L188.5 371.3L188.8 369.9L189.0 372.5L189.2 372.9L189.5 373.1L189.8 372.1L190.0 372.0L190.2 370.0L190.5 370.9L190.8 373.1L191.0 375.3L191.2 370.6L191.5 370.1L191.8 371.2L192.0 368.4L192.2 369.0L192.5 367.9L192.8 367.1L193.0 367.4L193.2 365.5L193.5 364.0L193.8 364.9L194.0 363.5L194.2 362.3L194.5 362.1L194.8 362.3L195.0 359.7L195.2 360.0L195.5 359.8L195.8 357.8L196.0 358.0L196.2 354.9L196.5 355.5L196.8 354.3L197.0 353.6L197.2 350.4L197.5 351.1L197.8 348.8L198.0 346.6L198.2 345.3L198.5 344.9L198.8 345.7L199.0 342.6L199.2 342.9L199.5 343.1L199.8 342.8L200.0 341.2L200.2 341.7L200.5 337.8L200.8 337.4L201.0 337.0L201.2 336.8L201.5 336.0L201.8 333.8L202.0 334.4L202.2 332.3L202.5 335.1L202.8 331.7L203.0 333.3L203.2 332.6L203.5 332.0L203.8 328.8L204.0 330.4L204.2 329.4L204.5 328.6L204.8 330.1L205.0 327.5L205.2 325.5L205.5 325.4L205.8 326.8L206.0 325.0L206.2 322.8L206.5 322.4L206.8 323.4L207.0 322.5L207.2 324.3L207.5 322.6L207.8 323.8L208.0 324.1L208.2 320.3L208.5 320.9L208.8 323.1L209.0 319.3L209.2 319.8L209.5 320.3L209.8 318.3L210.0 316.7L210.2 314.7L210.5 317.3L210.8 314.9L211.0 314.6L211.2 311.3L211.5 315.4L211.8 313.9L212.0 311.2L212.2 313.7L212.5 308.8L212.8 311.1L213.0 308.2L213.2 313.3L213.5 306.0L213.8 306.5L214.0 305.7L214.2 307.3L214.5 306.1L214.8 304.7L215.0 303.5L215.2 308.9L215.5 306.4L215.8 310.2L216.0 313.1L216.2 311.5L216.5 313.3L216.8 317.1L217.0 318.8L217.2 318.5L217.5 321.8L217.8 326.0L218.0 325.7L218.2 328.9L218.5 330.1L218.8 331.6L219.0 335.9L219.2 336.9L219.5 338.8L219.8 339.8L220.0 342.4L220.2 340.8L220.5 338.7L220.8 335.3L221.0 333.2L221.2 332.8L221.5 328.0L221.8 326.7L222.0 324.0L222.2 321.5L222.5 318.2L222.8 317.3L223.0 318.2L223.2 314.1L223.5 311.1L223.8 310.6L224.0 304.4L224.2 305.3L224.5 301.5L224.8 297.4L225.0 295.6L225.2 294.9L225.5 296.9L225.8 295.1L226.0 293.5L226.2 292.2L226.5 290.1L226.8 290.9L227.0 289.1L227.2 290.3L227.5 289.0L227.8 289.3L228.0 289.7L228.2 287.9L228.5 288.4L228.8 287.1L229.0 289.3L229.2 289.0L229.5 289.7L229.8 289.1L230.0 285.8L230.2 284.1L230.5 285.3L230.8 285.6L231.0 282.0L231.2 285.2L231.5 282.1L231.8 281.1L232.0 280.9L232.2 278.3L232.5 276.9L232.8 277.6L233.0 275.5L233.2 276.0L233.5 275.2L233.8 270.4L234.0 272.4L234.2 274.7L234.5 269.0L234.8 271.2L235.0 268.6L235.2 267.1L235.5 270.3L235.8 269.0L236.0 266.0L236.2 268.3L236.5 273.3L236.8 274.8L237.0 274.6L237.2 278.5L237.5 280.3L237.8 281.9L238.0 285.4L238.2 286.2L238.5 289.1L238.8 289.8L239.0 291.5L239.2 293.6L239.5 297.2L239.8 299.3L240.0 301.4L240.2 302.7L240.5 306.5L240.8 306.8L241.0 308.6L241.2 308.5L241.5 307.3L241.8 306.3L242.0 304.2L242.2 304.3L242.5 301.8L242.8 298.1L243.0 297.9L243.2 295.3L243.5 293.9L243.8 292.3L244.0 289.5L244.2 284.0L244.5 284.4L244.8 282.0L245.0 279.8L245.2 277.5L245.5 273.2L245.8 269.9L246.0 272.0L246.2 270.1L246.5 265.4L246.8 258.8L247.0 258.0L247.2 253.2L247.5 248.3L247.8 246.0L248.0 241.4L248.2 238.5L248.5 234.3L248.8 229.8L249.0 223.6L249.2 217.1L249.5 212.7L249.8 213.9L250.0 209.3L250.2 210.7L250.5 211.1L250.8 213.4L251.0 209.0L251.2 210.5L251.5 207.3L251.8 213.8L252.0 214.6L252.2 216.6L252.5 220.5L252.8 222.4L253.0 223.8L253.2 225.5L253.5 221.8L253.8 222.9L254.0 223.9L254.2 216.8L254.5 215.9L254.8 210.8L255.0 209.8L255.2 212.6L255.5 211.7L255.8 212.0L256.0 211.5L256.2 207.8L256.5 205.2L256.8 209.8L257.0 208.4L257.2 209.0L257.5 207.3L257.8 208.5L258.0 205.4L258.2 206.3L258.5 207.3L258.8 209.9L259.0 211.4L259.2 212.1L259.5 207.7L259.8 214.0L260.0 215.4L260.2 233.7L260.5 248.3L260.8 248.6L261.0 251.0L261.2 254.2L261.5 256.1L261.8 260.7L262.0 262.8L262.2 262.6L262.5 265.3L262.8 268.2L263.0 266.2L263.2 267.4L263.5 267.5L263.8 267.6L264.0 270.5L264.2 270.8L264.5 274.8L264.8 275.8L265.0 277.0L265.2 280.5L265.5 287.6L265.8 290.4L266.0 296.2L266.2 303.5L266.5 307.8L266.8 312.4L267.0 319.4L267.2 323.3L267.5 326.9L267.8 325.1L268.0 323.0L268.2 321.9L268.5 318.6L268.8 317.2L269.0 314.8L269.2 312.1L269.5 315.9L269.8 312.4L270.0 307.0L270.2 309.7L270.5 307.3L270.8 304.1L271.0 304.9L271.2 303.4L271.5 301.4L271.8 300.4L272.0 295.0L272.2 294.4L272.5 294.4L272.8 296.7L273.0 298.4L273.2 298.8L273.5 302.0L273.8 299.5L274.0 301.0L274.2 306.6L274.5 306.7L274.8 310.2L275.0 310.6L275.2 312.1L275.5 313.0L275.8 314.6L276.0 315.5L276.2 317.9L276.5 318.6L276.8 320.8L277.0 321.1L277.2 323.2L277.5 322.1L277.8 323.5L278.0 325.1L278.2 324.4L278.5 322.1L278.8 326.7L279.0 327.3L279.2 327.6L279.5 327.7L279.8 329.0L280.0 331.9L280.2 332.0L280.5 332.5L280.8 333.2L281.0 333.8L281.2 332.6L281.5 333.4L281.8 334.9L282.0 337.8L282.2 336.8L282.5 338.8L282.8 336.8L283.0 334.6L283.2 331.4L283.5 330.4L283.8 332.3L284.0 327.7L284.2 326.2L284.5 324.7L284.8 326.2L285.0 321.7L285.2 319.0L285.5 319.4L285.8 318.5L286.0 317.5L286.2 320.4L286.5 325.3L286.8 325.5L287.0 327.2L287.2 328.8L287.5 329.8L287.8 334.2L288.0 336.7L288.2 338.3L288.5 339.7L288.8 342.9L289.0 344.6L289.2 347.4L289.5 349.3L289.8 351.4L290.0 353.1L290.2 356.1L290.5 357.5L290.8 359.4L291.0 362.7L291.2 364.3L291.5 366.4L291.8 367.0L292.0 370.5L292.2 371.4L292.5 373.0L292.8 375.5L293.0 377.3L293.2 379.7L293.5 382.8L293.8 386.3L294.0 387.2L294.2 391.2L294.5 393.7L294.8 398.4L295.0 400.2L295.2 403.4L295.5 406.7L295.8 407.5L296.0 410.5L296.2 410.9L296.5 412.6L296.8 415.1L297.0 416.0L297.2 417.3L297.5 418.3L297.8 419.1L298.0 420.3L298.2 420.6L298.5 421.3L298.8 422.0L299.0 424.8L299.2 426.2L299.5 425.9L299.8 426.4L300.0 425.3L300.2 425.8L300.5 426.9L300.8 426.4L301.0 427.9L301.2 427.7L301.5 428.0L301.8 427.1L302.0 427.1L302.2 428.6L302.5 428.8L302.8 428.2L303.0 429.1L303.2 428.6L303.5 429.1L303.8 430.2L304.0 429.5L304.2 429.1L304.5 430.3L304.8 429.4L305.0 428.2L305.2 429.0L305.5 426.1L305.8 428.8L306.0 430.1L306.2 429.2L306.5 427.6L306.8 429.9L307.0 431.1L307.2 429.5L307.5 428.6L307.8 429.1L308.0 429.5L308.2 430.0L308.5 430.3L308.8 430.1L309.0 427.7L309.2 428.8L309.5 428.6L309.8 430.1L310.0 428.3L310.2 428.0L310.5 428.6L310.8 429.6L311.0 428.8L311.2 431.0L311.5 430.7L311.8 431.6L312.0 432.1L312.2 432.0L312.5 432.1L312.8 432.8L313.0 431.3L313.2 430.5L313.5 429.9L313.8 427.7L314.0 426.0L314.2 425.1L314.5 423.8L314.8 423.2L315.0 419.5L315.2 420.4L315.5 420.4L315.8 417.6L316.0 416.1L316.2 414.3L316.5 411.9L316.8 411.2L317.0 409.5L317.2 408.3L317.5 407.4L317.8 405.2L318.0 404.3L318.2 402.7L318.5 401.2L318.8 398.4L319.0 397.3L319.2 394.5L319.5 390.4L319.8 388.7L320.0 388.1L320.2 384.7L320.5 383.9L320.8 380.2L321.0 379.0L321.2 376.4L321.5 374.2L321.8 372.2L322.0 371.1L322.2 369.2L322.5 365.9L322.8 363.6L323.0 362.0L323.2 359.7L323.5 357.1L323.8 357.9L324.0 358.3L324.2 358.1L324.5 359.5L324.8 362.5L325.0 361.7L325.2 360.4L325.5 361.5L325.8 361.7L326.0 363.2L326.2 365.2L326.5 364.8L326.8 369.8L327.0 369.6L327.2 372.6L327.5 373.6L327.8 374.6L328.0 376.4L328.2 382.4L328.5 383.5L328.8 379.1L329.0 377.2L329.2 377.9L329.5 373.6L329.8 373.1L330.0 372.7L330.2 369.8L330.5 368.3L330.8 365.6L331.0 361.5L331.2 362.6L331.5 360.9L331.8 363.0L332.0 360.6L332.2 361.1L332.5 360.6L332.8 359.9L333.0 361.1L333.2 359.6L333.5 359.8L333.8 361.4L334.0 359.7L334.2 358.5L334.5 361.6L334.8 358.8L335.0 360.8L335.2 361.9L335.5 361.5L335.8 360.8L336.0 361.0L336.2 361.2L336.5 359.9L336.8 360.7L337.0 359.2L337.2 357.9L337.5 359.9L337.8 356.9L338.0 354.8L338.2 354.9L338.5 354.4L338.8 353.2L339.0 354.2L339.2 350.6L339.5 351.8L339.8 350.5L340.0 350.2L340.2 349.8L340.5 350.9L340.8 350.8L341.0 353.0L341.2 354.1L341.5 355.8L341.8 352.3L342.0 355.9L342.2 355.7L342.5 355.9L342.8 355.6L343.0 357.7L343.2 355.6L343.5 359.1L343.8 357.8L344.0 358.5L344.2 357.8L344.5 357.9L344.8 355.4L345.0 356.6L345.2 355.3L345.5 356.7L345.8 354.8L346.0 354.0L346.2 351.0L346.5 352.3L346.8 354.2L347.0 350.9L347.2 350.1L347.5 349.1L347.8 350.0L348.0 346.5L348.2 348.9L348.5 347.2L348.8 346.4L349.0 344.7L349.2 346.0L349.5 342.0L349.8 342.1L350.0 340.7L350.2 338.1L350.5 338.0L350.8 339.0L351.0 336.8L351.2 335.4L351.5 334.6L351.8 333.0L352.0 332.3L352.2 334.4L352.5 334.3L352.8 336.0L353.0 336.7L353.2 338.0L353.5 338.4L353.8 338.0L354.0 338.7L354.2 339.3L354.5 341.3L354.8 341.2L355.0 344.3L355.2 343.1L355.5 344.8L355.8 343.2L356.0 345.1L356.2 346.3L356.5 345.0L356.8 347.6L357.0 344.3L357.2 342.2L357.5 342.2L357.8 340.1L358.0 339.1L358.2 340.3L358.5 336.9L358.8 338.8L359.0 335.9L359.2 336.8L359.5 338.9L359.8 335.7L360.0 334.9L360.2 335.7L360.5 332.7L360.8 332.2L361.0 330.4L361.2 329.9L361.5 329.7L361.8 329.0L362.0 326.6L362.2 327.3L362.5 327.0L362.8 326.1L363.0 324.7L363.2 322.2L363.5 322.2L363.8 321.6L364.0 318.1L364.2 318.5L364.5 322.7L364.8 325.3L365.0 326.6L365.2 326.3L365.5 331.1L365.8 329.9L366.0 333.4L366.2 333.0L366.5 335.7L366.8 336.8L367.0 337.1L367.2 339.6L367.5 338.8L367.8 339.7L368.0 340.5L368.2 341.3L368.5 345.4L368.8 347.3L369.0 347.2L369.2 346.9L369.5 350.3L369.8 351.7L370.0 352.9L370.2 351.6L370.5 350.4L370.8 351.5L371.0 348.3L371.2 347.9L371.5 345.0L371.8 344.8L372.0 343.4L372.2 342.0L372.5 342.3L372.8 339.3L373.0 338.7L373.2 337.0L373.5 336.4L373.8 334.3L374.0 336.1L374.2 334.3L374.5 331.5L374.8 332.0L375.0 331.0L375.2 332.0L375.5 331.7L375.8 334.0L376.0 333.5L376.2 334.8L376.5 334.2L376.8 333.6L377.0 336.3L377.2 336.5L377.5 339.6L377.8 338.2L378.0 339.5L378.2 339.3L378.5 338.3L378.8 336.9L379.0 337.9L379.2 337.5L379.5 336.0L379.8 335.8L380.0 334.7L380.2 331.8L380.5 333.0L380.8 331.0L381.0 329.9L381.2 329.9L381.5 325.7L381.8 326.9L382.0 325.6L382.2 324.9L382.5 322.9L382.8 320.5L383.0 321.9L383.2 320.8L383.5 317.3L383.8 318.1L384.0 315.3L384.2 314.2L384.5 314.8L384.8 314.5L385.0 313.1L385.2 318.2L385.5 313.8L385.8 315.1L386.0 314.9L386.2 317.0L386.5 314.2L386.8 317.1L387.0 313.8L387.2 315.3L387.5 314.2L387.8 312.5L388.0 314.1L388.2 316.2L388.5 316.3L388.8 313.4L389.0 310.8L389.2 310.4L389.5 312.3L389.8 311.7L390.0 311.7L390.2 310.9L390.5 310.1L390.8 312.7L391.0 312.3L391.2 313.8L391.5 312.6L391.8 316.2L392.0 318.3L392.2 319.8L392.5 320.7L392.8 317.6L393.0 317.4L393.2 319.5L393.5 319.3L393.8 317.9L394.0 324.4L394.2 323.1L394.5 324.3L394.8 324.6L395.0 326.2L395.2 325.3L395.5 325.4L395.8 328.1L396.0 326.1L396.2 329.1L396.5 327.6L396.8 331.8L397.0 330.9L397.2 330.5L397.5 330.1L397.8 332.5L398.0 336.0L398.2 335.6L398.5 333.9L398.8 334.3L399.0 341.5L399.2 337.7L399.5 336.8L399.8 339.8L400.0 341.2L400.2 342.9L400.5 341.7L400.8 341.6L401.0 344.1L401.2 343.0L401.5 345.3L401.8 345.3L402.0 346.6L402.2 345.6L402.5 346.2L402.8 348.4L403.0 349.3L403.2 347.8L403.5 349.4L403.8 351.0L404.0 350.5L404.2 351.8L404.5 348.9L404.8 348.3L405.0 345.9L405.2 345.5L405.5 344.7L405.8 345.4L406.0 343.2L406.2 343.9L406.5 340.8L406.8 341.9L407.0 339.4L407.2 337.5L407.5 338.9L407.8 336.9L408.0 334.7L408.2 332.7L408.5 333.6L408.8 330.0L409.0 330.5L409.2 327.2L409.5 327.4L409.8 324.1L410.0 323.9L410.2 327.8L410.5 329.1L410.8 327.4L411.0 328.8L411.2 327.7L411.5 330.7L411.8 332.6L412.0 331.3L412.2 332.9L412.5 335.0L412.8 335.5L413.0 336.7L413.2 339.1L413.5 339.0L413.8 341.0L414.0 343.2L414.2 341.5L414.5 343.4L414.8 343.6L415.0 343.2L415.2 346.3L415.5 343.7L415.8 346.4L416.0 346.4L416.2 347.0L416.5 348.5L416.8 350.5L417.0 351.9L417.2 353.9L417.5 351.4L417.8 355.4L418.0 355.8L418.2 356.1L418.5 357.1L418.8 357.9L419.0 357.4L419.2 356.6L419.5 357.4L419.8 354.8L420.0 353.7L420.2 350.9L420.5 352.4L420.8 348.6L421.0 347.5L421.2 346.0L421.5 345.6L421.8 343.6L422.0 343.8L422.2 344.3L422.5 346.1L422.8 346.9L423.0 347.8L423.2 350.4L423.5 351.1L423.8 349.1L424.0 350.6L424.2 353.5L424.5 352.4L424.8 355.1L425.0 355.8L425.2 354.2L425.5 357.2L425.8 358.8L426.0 358.7L426.2 359.1L426.5 360.9L426.8 363.7L427.0 364.4L427.2 366.1L427.5 367.3L427.8 367.8L428.0 368.6L428.2 371.8L428.5 371.8L428.8 374.3L429.0 374.3L429.2 377.0L429.5 378.0L429.8 379.4L430.0 381.3L430.2 382.1L430.5 382.5L430.8 382.6L431.0 382.9L431.2 384.5L431.5 386.1L431.8 388.1L432.0 390.0L432.2 389.9L432.5 389.3L432.8 389.3L433.0 387.5L433.2 387.4L433.5 386.8L433.8 386.1L434.0 385.5L434.2 384.3L434.5 384.9L434.8 383.7L435.0 385.3L435.2 385.0L435.5 382.9L435.8 381.8L436.0 382.1L436.2 380.7L436.5 382.4L436.8 381.1L437.0 382.5L437.2 384.6L437.5 385.5L437.8 385.0L438.0 386.4L438.2 385.6L438.5 387.3L438.8 387.7L439.0 387.8L439.2 390.8L439.5 393.4L439.8 391.1L440.0 393.0L440.2 395.1L440.5 395.2L440.8 396.6L441.0 397.1L441.2 398.5L441.5 397.9L441.8 399.9L442.0 399.8L442.2 400.3L442.5 400.1L442.8 401.3L443.0 402.3L443.2 401.6L443.5 402.1L443.8 401.4L444.0 403.1L444.2 402.2L444.5 401.8L444.8 398.5L445.0 397.0L445.2 397.1L445.5 396.1L445.8 392.9L446.0 392.3L446.2 389.6L446.5 389.8L446.8 389.8L447.0 388.5L447.2 385.2L447.5 385.3L447.8 383.1L448.0 382.5L448.2 380.6L448.5 380.3L448.8 379.9L449.0 377.9L449.2 377.2L449.5 376.4L449.8 375.9L450.0 373.5L450.2 372.8L450.5 372.1L450.8 373.1L451.0 371.1L451.2 371.1L451.5 369.2L451.8 366.9L452.0 367.2L452.2 366.7L452.5 365.2L452.8 364.4L453.0 363.5L453.2 364.8L453.5 366.0L453.8 365.9L454.0 365.4L454.2 366.2L454.5 370.5L454.8 367.1L455.0 368.3L455.2 367.4L455.5 366.8L455.8 369.3L456.0 368.2L456.2 368.0L456.5 370.0L456.8 368.7L457.0 370.1L457.2 368.7L457.5 370.4L457.8 372.1L458.0 372.3L458.2 373.2L458.5 375.3L458.8 378.3L459.0 378.0L459.2 379.6L459.5 382.6L459.8 383.4L460.0 385.2L460.2 386.2L460.5 388.3L460.8 390.0L461.0 391.0L461.2 390.7L461.5 393.9L461.8 393.4L462.0 396.4L462.2 395.0L462.5 396.4L462.8 397.0L463.0 397.0L463.2 398.9L463.5 398.3L463.8 400.4L464.0 400.0L464.2 399.7L464.5 402.1L464.8 401.9L465.0 401.0L465.2 399.3L465.5 400.4L465.8 399.5L466.0 398.3L466.2 396.4L466.5 395.3L466.8 394.3L467.0 394.9L467.2 393.4L467.5 394.0L467.8 391.4L468.0 393.6L468.2 391.6L468.5 389.9L468.8 390.6L469.0 391.7L469.2 391.6L469.5 388.4L469.8 389.4L470.0 391.1L470.2 390.0L470.5 390.8L470.8 390.7L471.0 392.3L471.2 391.4L471.5 392.7L471.8 392.2L472.0 393.0L472.2 392.8L472.5 394.0L472.8 394.1L473.0 395.7L473.2 393.2L473.5 394.2L473.8 395.1L474.0 393.5L474.2 389.7L474.5 390.6L474.8 388.9L475.0 390.2L475.2 387.8L475.5 387.5L475.8 384.8L476.0 385.1L476.2 381.7L476.5 381.9L476.8 381.7L477.0 379.8L477.2 381.6L477.5 379.8L477.8 380.0L478.0 376.3L478.2 376.6L478.5 378.1L478.8 376.8L479.0 378.5L479.2 378.0L479.5 376.6L479.8 376.9L480.0 377.1L480.2 376.2L480.5 375.3L480.8 374.8L481.0 374.2L481.2 374.4L481.5 375.3L481.8 371.4L482.0 370.9L482.2 371.7L482.5 372.9L482.8 369.1L483.0 371.5L483.2 372.2L483.5 368.5L483.8 371.5L484.0 372.4L484.2 371.4L484.5 370.3L484.8 372.7L485.0 372.4L485.2 374.5L485.5 374.6L485.8 373.4L486.0 376.9L486.2 375.3L486.5 373.7L486.8 371.9L487.0 371.5L487.2 369.9L487.5 367.8L487.8 365.2L488.0 366.1L488.2 362.7L488.5 364.1L488.8 360.9L489.0 361.6L489.2 360.4L489.5 358.3L489.8 357.5L490.0 357.1L490.2 357.6L490.5 354.8L490.8 353.9L491.0 354.6L491.2 351.5L491.5 350.2L491.8 349.4L492.0 349.9L492.2 347.8L492.5 346.7L492.8 346.3L493.0 344.5L493.2 345.7L493.5 345.1L493.8 343.1L494.0 341.7L494.2 342.2L494.5 339.6L494.8 339.4L495.0 339.5L495.2 338.4L495.5 338.7L495.8 339.1L496.0 339.7L496.2 339.7L496.5 343.3L496.8 342.7L497.0 344.5L497.2 345.7L497.5 347.3L497.8 347.0L498.0 347.1L498.2 352.6L498.5 350.6L498.8 353.7L499.0 352.4L499.2 354.8L499.5 352.7L499.8 354.5L500.0 352.0L500.2 349.5L500.5 352.9L500.8 347.9L501.0 349.1L501.2 349.3L501.5 346.7L501.8 347.4L502.0 344.7L502.2 343.4L502.5 344.9L502.8 342.7L503.0 341.3L503.2 341.8L503.5 339.8L503.8 337.4L504.0 337.5L504.2 339.8L504.5 338.9L504.8 333.7L505.0 336.2L505.2 336.2L505.5 333.4L505.8 333.2L506.0 329.2L506.2 329.2L506.5 330.6L506.8 329.0L507.0 326.5L507.2 325.1L507.5 322.7L507.8 321.7L508.0 321.6L508.2 321.2L508.5 319.2L508.8 323.6L509.0 320.4L509.2 323.1L509.5 325.5L509.8 329.7L510.0 328.8L510.2 333.0L510.5 334.4L510.8 336.6L511.0 340.6L511.2 342.8L511.5 345.4L511.8 344.9L512.0 349.6L512.2 351.1L512.5 352.0L512.8 353.2L513.0 353.9L513.2 355.5L513.5 357.9L513.8 360.3L514.0 359.6L514.2 362.1L514.5 364.6L514.8 362.2L515.0 364.8L515.2 362.3L515.5 362.3L515.8 359.1L516.0 357.5L516.2 356.6L516.5 355.6L516.8 352.9L517.0 353.9L517.2 352.6L517.5 350.4L517.8 351.1L518.0 351.7L518.2 353.3L518.5 355.4L518.8 357.4L519.0 359.3L519.2 363.6L519.5 365.6L519.8 368.2L520.0 368.3L520.2 372.1L520.5 374.7L520.8 374.9L521.0 378.7L521.2 382.5L521.5 382.2L521.8 385.5L522.0 384.2L522.2 381.2L522.5 379.9L522.8 376.3L523.0 373.5L523.2 370.8L523.5 369.0L523.8 365.7L524.0 362.3L524.2 359.3L524.5 357.4L524.8 352.1L525.0 351.6L525.2 353.5L525.5 351.8L525.8 353.0L526.0 351.2L526.2 352.6L526.5 350.5L526.8 352.5L527.0 351.7L527.2 350.3L527.5 353.2L527.8 353.0L528.0 354.0L528.2 354.3L528.5 353.5L528.8 353.7L529.0 353.2L529.2 356.2L529.5 356.1L529.8 354.7L530.0 354.2L530.2 353.6L530.5 353.0L530.8 354.2L531.0 352.2L531.2 352.0L531.5 348.4L531.8 347.4L532.0 349.3L532.2 344.1L532.5 344.0L532.8 342.3L533.0 342.2L533.2 344.9L533.5 339.4L533.8 340.4L534.0 339.6L534.2 335.8L534.5 334.9L534.8 335.3L535.0 334.9L535.2 331.0L535.5 333.1L535.8 336.2L536.0 333.1L536.2 334.5L536.5 335.8L536.8 334.0L537.0 334.4L537.2 334.1L537.5 334.5L537.8 334.5L538.0 333.8L538.2 335.5L538.5 336.0L538.8 337.9L539.0 336.7L539.2 336.2L539.5 340.5L539.8 339.6L540.0 340.5L540.2 341.5L540.5 344.3L540.8 344.5L541.0 346.1L541.2 346.7L541.5 347.9L541.8 349.7L542.0 349.4L542.2 352.9L542.5 348.8L542.8 351.0L543.0 347.4L543.2 346.6L543.5 346.3L543.8 342.1L544.0 343.9L544.2 341.3L544.5 339.4L544.8 337.6L545.0 337.4L545.2 333.7L545.5 335.9L545.8 332.6L546.0 332.8L546.2 330.2L546.5 328.7L546.8 328.5L547.0 327.1L547.2 329.1L547.5 326.3L547.8 326.6L548.0 325.1L548.2 325.3L548.5 323.7L548.8 323.3L549.0 319.4L549.2 317.8L549.5 318.2L549.8 317.8L550.0 318.5L550.2 320.5L550.5 320.9L550.8 320.4L551.0 319.5L551.2 320.7L551.5 320.0L551.8 320.4L552.0 320.0L552.2 319.0L552.5 318.5L552.8 316.4L553.0 315.2L553.2 315.3L553.5 312.1L553.8 311.5L554.0 308.8L554.2 305.1L554.5 305.6L554.8 303.9L555.0 297.4L555.2 295.6L555.5 297.3L555.8 296.0L556.0 292.2L556.2 294.5L556.5 292.8L556.8 292.3L557.0 293.4L557.2 289.9L557.5 289.1L557.8 290.7L558.0 290.0L558.2 287.2L558.5 287.7L558.8 286.6L559.0 288.3L559.2 286.3L559.5 287.9L559.8 290.7L560.0 288.0L560.2 289.6L560.5 292.5L560.8 292.5L561.0 291.9L561.2 292.0L561.5 296.8L561.8 295.2L562.0 297.3L562.2 293.9L562.5 294.9L562.8 295.5L563.0 296.9L563.2 294.3L563.5 298.5L563.8 297.0L564.0 297.9L564.2 294.5L564.5 296.5L564.8 289.9L565.0 293.6L565.2 289.1L565.5 289.3L565.8 288.0L566.0 289.4L566.2 284.8L566.5 284.4L566.8 283.7L567.0 284.3L567.2 282.7L567.5 278.5L567.8 278.8L568.0 278.9L568.2 275.8L568.5 275.2L568.8 271.4L569.0 274.9L569.2 273.5L569.5 270.2L569.8 271.8L570.0 267.3L570.2 271.4L570.5 268.4L570.8 269.6L571.0 271.5L571.2 266.4L571.5 270.3L571.8 267.4L572.0 265.5L572.2 269.8L572.5 269.1L572.8 267.3L573.0 268.0L573.2 267.1L573.5 267.5L573.8 269.0L574.0 272.5L574.2 270.9L574.5 272.9L574.8 277.2L575.0 274.8L575.2 277.4L575.5 279.6L575.8 278.5L576.0 279.5L576.2 277.3L576.5 274.5L576.8 272.5L577.0 270.4L577.2 269.2L577.5 267.6L577.8 263.4L578.0 262.0L578.2 259.8L578.5 258.4L578.8 254.1L579.0 250.6L579.2 250.0L579.5 246.4L579.8 248.1L580.0 244.0L580.2 242.5L580.5 240.9L580.8 243.4L581.0 236.5L581.2 239.6L581.5 231.1L581.8 232.2L582.0 238.3L582.2 237.7L582.5 240.2L582.8 240.7L583.0 241.2L583.2 247.2L583.5 250.4L583.8 254.2L584.0 257.9L584.2 256.2L584.5 258.6L584.8 256.7L585.0 257.9L585.2 256.1L585.5 255.9L585.8 254.8L586.0 253.6L586.2 249.3L586.5 248.0L586.8 246.0L587.0 244.6L587.2 243.8L587.5 244.1L587.8 240.6L588.0 235.6L588.2 233.2L588.5 238.8L588.8 233.4L589.0 228.5L589.2 228.5L589.5 230.1L589.8 228.9L590.0 228.1L590.2 223.8L590.5 224.8L590.8 226.4L591.0 227.7L591.2 226.3L591.5 228.8L591.8 225.7L592.0 226.8L592.2 227.2L592.5 229.9L592.8 228.0L593.0 234.0L593.2 230.5L593.5 235.3L593.8 236.1L594.0 238.6L594.2 235.7L594.5 235.6L594.8 237.9L595.0 239.9L595.2 242.1L595.5 236.8L595.8 241.6L596.0 242.9L596.2 244.2L596.5 246.0L596.8 247.3L597.0 247.8L597.2 245.3L597.5 253.6L597.8 249.5L598.0 253.9L598.2 253.8L598.5 254.9L598.8 254.9L599.0 258.9L599.2 258.1L599.5 260.4L599.8 260.4L600.0 258.6L600.2 255.7L600.5 256.4L600.8 254.4L601.0 253.6L601.2 250.6L601.5 244.1L601.8 247.6L602.0 247.8L602.2 246.1L602.5 244.8L602.8 244.7L603.0 242.0L603.2 242.5L603.5 243.6L603.8 239.8L604.0 240.3L604.2 237.7L604.5 238.0L604.8 241.6L605.0 241.1L605.2 243.2L605.5 244.4L605.8 247.3L606.0 244.9L606.2 248.3L606.5 246.0L606.8 248.4L607.0 250.3L607.2 249.3L607.5 243.8L607.8 246.0L608.0 246.2L608.2 242.2L608.5 244.2L608.8 242.6L609.0 243.3L609.2 243.5L609.5 238.3L609.8 237.7L610.0 240.7L610.2 239.2L610.5 238.1L610.8 232.6L611.0 233.6L611.2 226.4L611.5 231.4L611.8 230.5L612.0 230.5L612.2 232.9L612.5 237.3L612.8 239.1L613.0 237.1L613.2 238.5L613.5 241.8L613.8 239.4L614.0 241.3L614.2 242.3L614.5 246.6L614.8 251.6L615.0 254.1L615.2 265.6L615.5 274.9L615.8 280.9L616.0 284.3L616.2 283.5L616.5 285.0L616.8 284.2L617.0 283.9L617.2 282.9L617.5 284.4L617.8 282.2L618.0 280.6L618.2 278.4L618.5 278.9L618.8 279.5L619.0 280.1L619.2 277.1L619.5 274.7L619.8 273.6L620.0 271.3L620.2 268.0L620.5 267.5L620.8 262.5L621.0 263.2L621.2 264.3L621.5 260.2L621.8 259.2L622.0 258.8L622.2 259.2L622.5 256.5L622.8 258.4L623.0 259.2L623.2 261.2L623.5 262.6L623.8 265.1L624.0 261.8L624.2 261.9L624.5 264.9L624.8 265.0L625.0 265.6L625.2 265.6L625.5 267.0L625.8 265.7L626.0 268.4L626.2 268.4L626.5 266.5L626.8 267.8L627.0 265.7L627.2 269.0L627.5 268.0L627.8 268.4L628.0 270.1L628.2 271.4L628.5 272.8L628.8 273.5L629.0 277.5L629.2 277.3L629.5 277.2L629.8 277.1L630.0 275.8L630.2 276.9L630.5 276.2L630.8 275.6L631.0 275.4L631.2 278.5L631.5 279.7L631.8 280.3L632.0 280.5L632.2 276.4L632.5 280.8L632.8 284.6L633.0 286.4L633.2 284.6L633.5 290.0L633.8 292.7L634.0 293.3L634.2 293.9L634.5 297.2L634.8 296.5L635.0 302.9L635.2 303.0L635.5 306.3L635.8 309.2L636.0 311.5L636.2 316.1L636.5 314.6L636.8 317.4L637.0 317.2L637.2 321.0L637.5 322.9L637.8 328.0L638.0 328.6L638.2 326.1L638.5 325.2L638.8 321.0L639.0 320.4L639.2 317.2L639.5 314.8L639.8 313.2L640.0 310.8L640.2 309.1L640.5 306.9L640.8 304.5L641.0 306.2L641.2 303.9L641.5 303.9L641.8 305.1L642.0 303.3L642.2 304.9L642.5 302.2L642.8 304.1L643.0 304.8L643.2 303.9L643.5 303.8L643.8 302.1L644.0 302.9L644.2 301.9L644.5 299.4L644.8 300.9L645.0 305.3L645.2 301.5L645.5 302.7L645.8 301.9L646.0 304.9L646.2 303.9L646.5 303.9L646.8 302.4L647.0 303.1L647.2 305.1L647.5 302.3L647.8 299.7L648.0 304.4L648.2 303.3L648.5 300.1L648.8 302.6L649.0 303.4L649.2 303.6L649.5 306.0L649.8 305.7L650.0 302.2L650.2 303.8L650.5 306.3L650.8 306.0L651.0 304.2L651.2 306.3L651.5 303.8L651.8 306.6L652.0 303.4L652.2 307.4L652.5 309.5L652.8 309.6L653.0 307.1L653.2 304.6L653.5 310.1L653.8 311.9L654.0 311.6L654.2 312.2L654.5 310.4L654.8 310.4L655.0 307.8L655.2 305.4L655.5 305.5L655.8 307.1L656.0 304.4L656.2 301.5L656.5 300.9L656.8 298.5L657.0 296.9L657.2 296.6L657.5 293.6L657.8 295.7L658.0 293.9L658.2 297.5L658.5 295.0L658.8 296.3L659.0 294.5L659.2 294.9L659.5 291.2L659.8 293.1L660.0 293.6L660.2 291.6L660.5 293.2L660.8 294.8L661.0 294.7L661.2 294.3L661.5 295.4L661.8 295.2L662.0 297.5L662.2 297.1L662.5 298.6L662.8 297.3L663.0 299.3L663.2 295.7L663.5 295.7L663.8 297.2L664.0 296.1L664.2 297.8L664.5 296.7L664.8 296.6L665.0 295.9L665.2 296.8L665.5 293.9L665.8 297.5L666.0 297.1L666.2 296.9L666.5 296.5L666.8 297.9L667.0 298.0L667.2 296.7L667.5 297.1L667.8 295.8L668.0 297.0L668.2 296.7L668.5 295.7L668.8 293.2L669.0 291.6L669.2 294.8L669.5 291.7L669.8 293.1L670.0 291.4L670.2 293.5L670.5 289.9L670.8 290.0L671.0 288.0L671.2 292.1L671.5 290.3L671.8 289.2L672.0 289.7L672.2 292.5L672.5 291.5L672.8 293.2L673.0 292.5L673.2 293.8L673.5 294.3L673.8 293.8L674.0 294.2L674.2 290.9L674.5 291.9L674.8 286.9L675.0 285.8L675.2 285.1L675.5 283.3L675.8 281.7L676.0 281.2L676.2 280.0L676.5 275.4L676.8 277.1L677.0 276.1L677.2 274.3L677.5 272.4L677.8 276.1L678.0 268.1L678.2 271.3L678.5 271.7L678.8 273.0L679.0 272.8L679.2 273.2L679.5 271.8L679.8 272.1L680.0 268.2L680.2 270.2L680.5 271.5L680.8 267.9L681.0 268.2L681.2 265.1L681.5 266.4L681.8 263.6L682.0 264.0L682.2 261.0L682.5 261.3L682.8 257.0L683.0 258.2L683.2 257.8L683.5 259.2L683.8 257.0L684.0 255.9L684.2 256.0L684.5 253.4L684.8 249.2L685.0 250.5L685.2 249.6L685.5 250.3L685.8 249.0L686.0 245.0L686.2 247.2L686.5 250.6L686.8 248.5L687.0 246.1L687.2 246.8L687.5 245.9L687.8 243.6L688.0 239.9L688.2 246.2L688.5 243.0L688.8 244.5L689.0 243.5L689.2 243.3L689.5 243.4L689.8 245.2L690.0 241.6L690.2 243.3L690.5 241.0L690.8 242.3L691.0 240.8L691.2 237.1L691.5 243.1L691.8 242.5L692.0 239.7L692.2 235.5L692.5 239.8L692.8 239.3L693.0 236.8L693.2 236.1L693.5 238.3L693.8 234.4L694.0 233.5L694.2 231.2L694.5 234.4L694.8 231.2L695.0 233.8L695.2 233.5L695.5 239.1L695.8 234.1L696.0 236.4L696.2 237.9L696.5 239.1L696.8 235.3L697.0 238.2L697.2 239.2L697.5 240.2L697.8 238.2L698.0 242.8L698.2 242.4L698.5 240.2L698.8 238.6L699.0 238.8L699.2 238.5L699.5 238.8L699.8 234.8L700.0 236.2L700.2 233.2L700.5 233.9L700.8 235.9L701.0 237.1L701.2 234.3L701.5 230.5L701.8 230.8L702.0 235.0L702.2 234.5L702.5 231.1L702.8 229.0L703.0 227.8L703.2 227.4L703.5 230.5L703.8 226.9L704.0 228.0L704.2 230.2L704.5 230.9L704.8 233.4L705.0 229.5L705.2 232.6L705.5 232.1L705.8 236.0L706.0 236.2L706.2 234.7L706.5 236.2L706.8 236.8L707.0 240.2L707.2 239.7L707.5 239.7L707.8 237.8L708.0 234.9L708.2 233.4L708.5 234.3L708.8 234.3L709.0 232.3L709.2 235.2L709.5 230.4L709.8 230.3L710.0 228.6L710.2 227.4L710.5 222.2L710.8 223.9L711.0 228.0L711.2 223.2L711.5 228.6L711.8 228.2L712.0 226.8L712.2 228.0L712.5 227.6L712.8 228.3L713.0 231.2L713.2 231.8L713.5 231.5L713.8 229.5L714.0 226.6L714.2 225.1L714.5 219.2L714.8 216.8L715.0 215.9L715.2 211.1L715.5 212.2L715.8 210.0L716.0 210.4L716.2 209.4L716.5 206.0L716.8 210.2L717.0 204.0L717.2 206.1L717.5 205.5L717.8 210.3L718.0 212.7L718.2 214.0L718.5 210.1L718.8 211.6L719.0 209.0L719.2 211.9L719.5 214.1L719.8 209.0L720.0 212.6L720.2 212.5L720.5 214.8L720.8 215.5L721.0 211.5L721.2 212.7L721.5 210.1L721.8 207.7L722.0 209.7L722.2 210.0L722.5 206.7L722.8 205.9L723.0 211.2L723.2 206.8L723.5 207.8L723.8 206.7L724.0 202.6L724.2 206.5L724.5 202.2L724.8 201.2L725.0 198.6L725.2 199.0L725.5 197.9L725.8 198.5L726.0 199.4L726.2 199.9L726.5 196.9L726.8 197.8L727.0 199.9L727.2 199.5L727.5 197.3L727.8 200.3L728.0 199.0L728.2 203.2L728.5 201.5L728.8 205.4L729.0 203.3L729.2 210.5L729.5 213.4L729.8 213.9L730.0 217.8L730.2 219.9L730.5 222.3L730.8 224.8L731.0 226.7L731.2 228.2L731.5 227.6L731.8 228.5L732.0 224.8L732.2 231.7L732.5 231.6L732.8 232.9L733.0 237.7L733.2 237.6L733.5 238.8L733.8 236.7L734.0 241.4L734.2 242.8L734.5 243.5L734.8 241.8L735.0 243.1L735.2 238.0L735.5 239.5L735.8 239.1L736.0 239.4L736.2 236.8L736.5 233.2L736.8 233.9L737.0 234.4L737.2 233.2L737.5 230.8L737.8 230.5L738.0 230.2L738.2 232.5L738.5 229.4L738.8 231.6L739.0 231.8L739.2 228.5L739.5 233.7L739.8 229.1L740.0 228.8L740.2 228.8L740.5 227.3L740.8 228.6L741.0 227.2L741.2 229.6L741.5 231.9L741.8 230.5L742.0 235.0L742.2 235.7L742.5 235.8L742.8 237.1L743.0 237.8L743.2 237.0L743.5 239.8L743.8 240.4L744.0 240.1L744.2 243.8L744.5 242.5L744.8 238.6L745.0 243.3L745.2 242.0L745.5 244.0L745.8 239.4L746.0 241.5L746.2 237.8L746.5 235.0L746.8 234.7L747.0 233.0L747.2 232.8L747.5 233.6L747.8 232.5L748.0 226.0L748.2 226.1L748.5 229.7L748.8 227.7L749.0 221.9L749.2 221.4L749.5 227.3L749.8 220.8L750.0 223.1L750.2 216.3L750.5 218.8L750.8 216.7L751.0 218.6L751.2 219.0L751.5 216.9L751.8 217.8L752.0 216.5L752.2 218.6L752.5 216.7L752.8 210.2L753.0 210.0L753.2 214.8L753.5 214.6L753.8 217.0L754.0 213.5L754.2 213.2L754.5 211.3L754.8 214.1L755.0 216.1L755.2 216.5L755.5 216.1L755.8 223.4L756.0 220.7L756.2 222.3L756.5 223.1L756.8 223.6L757.0 223.7L757.2 227.9L757.5 227.4L757.8 226.9L758.0 233.1L758.2 233.5L758.5 235.3L758.8 232.7L759.0 240.9L759.2 237.3L759.5 239.1L759.8 242.5L760.0 242.6L760.2 244.6L760.5 249.4L760.8 252.6L761.0 251.0L761.2 254.4L761.5 255.5L761.8 257.7L762.0 257.9L762.2 264.8L762.5 260.3L762.8 259.7L763.0 262.3L763.2 257.1L763.5 254.5L763.8 255.0L764.0 257.1L764.2 251.8L764.5 248.8L764.8 250.1L765.0 247.0L765.2 244.9L765.5 244.5L765.8 238.9L766.0 240.6L766.2 238.2L766.5 235.5L766.8 233.5L767.0 236.1L767.2 235.7L767.5 237.6L767.8 235.2L768.0 237.7L768.2 239.9L768.5 239.7L768.8 237.2L769.0 239.7L769.2 238.6L769.5 240.5L769.8 242.3L770.0 247.2L770.2 247.1L770.5 245.3L770.8 249.3L771.0 247.1L771.2 246.3L771.5 246.0L771.8 247.4L772.0 252.3L772.2 249.0L772.5 249.2L772.8 250.9L773.0 245.7L773.2 248.1L773.5 248.6L773.8 250.9L774.0 250.0L774.2 247.3L774.5 248.5L774.8 251.1L775.0 250.8L775.2 247.0L775.5 247.5L775.8 250.6L776.0 246.8L776.2 246.3L776.5 242.0L776.8 238.3L777.0 240.2L777.2 234.1L777.5 230.0L777.8 229.5L778.0 223.1L778.2 225.1L778.5 222.6L778.8 219.3L779.0 219.1L779.2 219.1L779.5 217.9L779.8 220.5L780.0 221.4L780.2 223.6L780.5 221.3L780.8 220.8L781.0 218.7L781.2 213.3L781.5 215.9L781.8 217.0L782.0 214.5L782.2 216.5L782.5 216.6L782.8 213.5L783.0 215.9L783.2 219.0L783.5 214.7L783.8 213.4L784.0 213.5L784.2 213.7L784.5 211.1L784.8 214.8L785.0 212.8L785.2 209.2L785.5 215.5L785.8 214.0L786.0 218.5L786.2 221.4L786.5 223.6L786.8 223.7L787.0 224.1L787.2 229.6L787.5 234.1L787.8 232.6L788.0 235.6L788.2 240.3L788.5 238.6L788.8 248.6L789.0 241.3L789.2 237.2L789.5 238.0L789.8 235.3L790.0 236.9L790.2 229.2L790.5 232.4L790.8 227.3L791.0 228.4L791.2 229.4L791.5 225.4L791.8 225.2L792.0 220.8L792.2 224.1L792.5 222.6L792.8 224.7L793.0 225.2L793.2 222.7L793.5 225.0L793.8 227.1L794.0 231.6L794.2 228.3L794.5 225.0L794.8 226.6L795.0 228.1L795.2 227.2L795.5 230.9L795.8 231.5L796.0 231.9L796.2 235.4L796.5 231.2L796.8 239.3L797.0 235.1L797.2 234.9L797.5 240.4L797.8 242.2L798.0 245.6L798.2 246.5L798.5 248.1L798.8 250.8L799.0 254.2L799.2 257.7L799.5 260.2L799.8 263.7L800.0 266.8L800.2 264.5L800.5 270.4L800.8 272.8L801.0 268.8L801.2 267.8L801.5 266.9L801.8 266.7L802.0 264.8L802.2 261.9L802.5 264.2L802.8 262.7L803.0 258.1L803.2 255.3L803.5 257.0L803.8 253.9L804.0 257.2L804.2 253.1L804.5 250.5L804.8 250.4L805.0 253.4L805.2 249.4L805.5 248.8L805.8 248.3L806.0 245.6L806.2 247.8L806.5 245.0L806.8 248.2L807.0 248.6L807.2 249.2L807.5 246.7L807.8 243.8L808.0 243.6L808.2 242.5L808.5 244.0L808.8 241.3L809.0 241.4L809.2 239.6L809.5 238.8L809.8 242.3L810.0 241.1L810.2 241.3L810.5 242.3L810.8 237.9L811.0 237.6L811.2 237.8L811.5 240.5L811.8 236.6L812.0 238.6L812.2 241.2L812.5 238.6L812.8 242.1L813.0 243.0L813.2 241.8L813.5 239.1L813.8 240.0L814.0 239.8L814.2 241.1L814.5 242.2L814.8 242.5L815.0 236.4L815.2 238.0L815.5 238.5L815.8 236.6L816.0 231.3L816.2 235.2L816.5 234.8L816.8 234.0L817.0 234.2L817.2 235.2L817.5 230.4L817.8 231.3L818.0 231.4L818.2 236.5L818.5 229.3L818.8 232.2L819.0 234.0L819.2 231.7L819.5 230.1L819.8 232.3L820.0 228.4L820.2 233.6L820.5 232.9L820.8 237.5L821.0 237.6L821.2 237.4L821.5 238.3L821.8 236.1L822.0 240.3L822.2 235.5L822.5 237.7L822.8 237.2L823.0 242.8L823.2 243.6L823.5 244.2L823.8 249.3L824.0 253.4L824.2 253.0L824.5 259.9L824.8 259.6L825.0 262.6L825.2 266.1L825.5 270.4L825.8 279.1L826.0 282.7L826.2 288.3L826.5 291.1L826.8 298.8L827.0 301.2L827.2 311.1L827.5 314.9L827.8 327.5L828.0 332.2L828.2 340.6L828.5 350.1L828.8 346.5L829.0 343.3L829.2 338.1L829.5 334.3L829.8 332.2L830.0 325.5L830.2 321.5L830.5 319.8L830.8 316.6L831.0 313.1L831.2 312.0L831.5 308.4L831.8 311.5L832.0 314.7L832.2 311.8L832.5 310.5L832.8 315.5L833.0 315.3L833.2 316.8L833.5 316.5L833.8 315.4L834.0 317.1L834.2 316.1L834.5 322.0L834.8 317.1L835.0 317.1L835.2 315.1L835.5 314.6L835.8 313.9L836.0 309.9L836.2 309.9L836.5 308.1L836.8 308.6L837.0 303.2L837.2 301.1L837.5 300.8L837.8 295.2L838.0 296.3L838.2 295.9L838.5 293.1L838.8 293.1L839.0 293.1L839.2 293.7L839.5 291.6L839.8 289.0L840.0 287.2L840.2 289.6L840.5 285.4L840.8 286.4L841.0 285.3L841.2 284.0L841.5 285.0L841.8 280.9L842.0 281.9L842.2 284.2L842.5 282.7L842.8 276.2L843.0 276.8L843.2 277.6L843.5 276.4L843.8 279.4L844.0 277.9L844.2 274.6L844.5 271.0L844.8 273.7L845.0 272.6L845.2 270.1L845.5 271.2L845.8 272.0L846.0 269.5L846.2 267.9L846.5 266.0L846.8 268.3L847.0 266.3L847.2 261.4L847.5 264.0L847.8 264.5L848.0 259.4L848.2 259.7L848.5 264.7L848.8 261.2L849.0 260.0L849.2 263.5L849.5 263.9L849.8 262.0L850.0 262.5L850.2 263.5L850.5 263.7L850.8 268.1L851.0 268.0L851.2 268.0L851.5 266.8L851.8 267.7L852.0 265.2L852.2 269.2L852.5 269.9L852.8 270.3L853.0 272.5L853.2 272.7L853.5 265.7L853.8 267.7L854.0 266.4L854.2 261.7L854.5 260.2L854.8 262.9L855.0 259.9L855.2 260.3L855.5 255.5L855.8 253.9L856.0 252.5L856.2 252.3L856.5 252.1L856.8 252.2L857.0 247.1L857.2 245.0L857.5 248.3L857.8 247.2L858.0 245.3L858.2 246.7L858.5 240.3L858.8 238.1L859.0 245.1L859.2 241.1L859.5 238.8L859.8 241.8L860.0 244.6L860.2 240.2L860.5 241.9L860.8 238.3L861.0 240.8L861.2 236.4L861.5 236.6L861.8 233.8L862.0 233.4L862.2 230.4L862.5 227.4L862.8 227.6L863.0 227.1L863.2 223.0L863.5 222.8L863.8 224.1L864.0 224.7L864.2 220.6L864.5 218.3L864.8 218.6L865.0 218.7L865.2 220.9L865.5 214.2L865.8 216.6L866.0 211.1L866.2 206.7L866.5 205.3L866.8 206.7L867.0 202.3L867.2 203.4L867.5 204.0L867.8 196.4L868.0 194.8L868.2 191.5L868.5 195.1L868.8 190.0L869.0 188.4L869.2 186.7L869.5 187.2L869.8 183.0L870.0 183.5L870.2 176.9L870.5 177.6L870.8 179.0L871.0 179.4L871.2 179.1L871.5 181.0L871.8 177.5L872.0 176.8L872.2 175.3L872.5 174.3L872.8 173.4L873.0 173.7L873.2 170.0L873.5 171.5L873.8 172.6L874.0 171.8L874.2 174.3L874.5 170.9L874.8 175.3L875.0 179.1L875.2 183.3L875.5 183.7L875.8 182.5L876.0 182.6L876.2 183.8L876.5 182.9L876.8 184.9L877.0 182.6L877.2 186.9L877.5 186.0L877.8 186.3L878.0 188.2L878.2 194.2L878.5 191.3L878.8 191.6L879.0 196.0L879.2 187.5L879.5 187.1L879.8 181.9L880.0 180.9L880.2 182.3L880.5 178.9L880.8 180.7L881.0 172.3L881.2 171.1L881.5 166.3L881.8 167.0L882.0 163.1L882.2 162.0L882.5 159.1L882.8 161.1L883.0 160.4L883.2 160.7L883.5 159.6L883.8 156.4L884.0 155.5L884.2 155.4L884.5 157.0L884.8 150.0L885.0 155.6L885.2 152.8L885.5 152.2L885.8 149.4L886.0 145.6L886.2 148.6L886.5 147.8L886.8 145.6L887.0 149.0L887.2 147.9L887.5 145.8L887.8 150.0L888.0 149.3L888.2 148.2L888.5 146.8L888.8 150.1L889.0 145.7L889.2 148.6L889.5 147.9L889.8 147.2L890.0 149.9L890.2 147.4L890.5 149.8L890.8 147.8L891.0 145.8L891.2 143.5L891.5 140.1L891.8 141.7L892.0 143.6L892.2 137.9L892.5 136.7L892.8 134.4L893.0 135.0L893.2 133.4L893.5 131.5L893.8 129.8L894.0 126.2L894.2 128.5L894.5 125.2L894.8 125.1L895.0 123.8L895.2 123.0L895.5 122.9L895.8 119.6L896.0 122.4L896.2 120.9L896.5 118.9L896.8 114.6L897.0 114.4L897.2 112.0L897.5 111.2L897.8 109.9L898.0 106.5L898.2 105.8L898.5 105.8L898.8 107.2L899.0 103.6L899.2 101.2L899.5 99.8L899.8 100.0L900.0 96.8L900.2 95.3L900.5 96.2L900.8 96.1L901.0 92.5L901.2 94.9L901.5 95.2L901.8 93.6L902.0 94.8L902.2 94.6L902.5 91.3L902.8 98.1L903.0 94.1L903.2 95.9L903.5 93.2L903.8 87.1L904.0 89.9L904.2 92.0L904.5 92.2L904.8 91.7L905.0 86.6L905.2 88.5L905.5 90.6L905.8 95.9L906.0 96.4L906.2 95.7L906.5 99.8L906.8 103.4L907.0 105.2L907.2 110.9L907.5 113.0L907.8 114.5L908.0 111.8L908.2 113.6L908.5 115.1L908.8 120.2L909.0 124.7L909.2 123.7L909.5 130.0L909.8 132.7L910.0 128.8L910.2 125.6L910.5 119.5L910.8 116.0L911.0 116.8L911.2 109.3L911.5 108.1L911.8 100.1L912.0 94.3L912.2 98.3L912.5 94.7L912.8 92.5L913.0 93.5L913.2 87.4L913.5 87.7L913.8 88.6L914.0 90.9L914.2 88.7L914.5 94.7L914.8 97.3L915.0 103.4L915.2 104.4L915.5 110.0" fill="none" stroke="#dc4430" stroke-width="9.5" stroke-linejoin="round" stroke-linecap="round"/>
<path d="M836.0 309.9L836.2 309.9L836.5 308.1L836.8 308.6L837.0 303.2L837.2 301.1L837.5 300.8L837.8 295.2L838.0 296.3L838.2 295.9L838.5 293.1L838.8 293.1L839.0 293.1L839.2 293.7L839.5 291.6L839.8 289.0L840.0 287.2L840.2 289.6L840.5 285.4L840.8 286.4L841.0 285.3L841.2 284.0L841.5 285.0L841.8 280.9L842.0 281.9L842.2 284.2L842.5 282.7L842.8 276.2L843.0 276.8L843.2 277.6L843.5 276.4L843.8 279.4L844.0 277.9L844.2 274.6L844.5 271.0L844.8 273.7L845.0 272.6L845.2 270.1L845.5 271.2L845.8 272.0L846.0 269.5L846.2 267.9L846.5 266.0L846.8 268.3L847.0 266.3L847.2 261.4L847.5 264.0L847.8 264.5L848.0 259.4L848.2 259.7L848.5 264.7L848.8 261.2L849.0 260.0L849.2 263.5L849.5 263.9L849.8 262.0L850.0 262.5L850.2 263.5L850.5 263.7L850.8 268.1L851.0 268.0L851.2 268.0L851.5 266.8L851.8 267.7L852.0 265.2L852.2 269.2L852.5 269.9L852.8 270.3L853.0 272.5L853.2 272.7L853.5 265.7L853.8 267.7L854.0 266.4L854.2 261.7L854.5 260.2L854.8 262.9L855.0 259.9L855.2 260.3L855.5 255.5L855.8 253.9L856.0 252.5L856.2 252.3L856.5 252.1L856.8 252.2L857.0 247.1L857.2 245.0L857.5 248.3L857.8 247.2L858.0 245.3L858.2 246.7L858.5 240.3L858.8 238.1L859.0 245.1L859.2 241.1L859.5 238.8L859.8 241.8L860.0 244.6L860.2 240.2L860.5 241.9L860.8 238.3L861.0 240.8L861.2 236.4L861.5 236.6L861.8 233.8L862.0 233.4L862.2 230.4L862.5 227.4L862.8 227.6L863.0 227.1L863.2 223.0L863.5 222.8L863.8 224.1L864.0 224.7L864.2 220.6L864.5 218.3L864.8 218.6L865.0 218.7L865.2 220.9L865.5 214.2L865.8 216.6L866.0 211.1L866.2 206.7L866.5 205.3L866.8 206.7L867.0 202.3L867.2 203.4L867.5 204.0L867.8 196.4L868.0 194.8L868.2 191.5L868.5 195.1L868.8 190.0L869.0 188.4L869.2 186.7L869.5 187.2L869.8 183.0L870.0 183.5L870.2 176.9L870.5 177.6L870.8 179.0L871.0 179.4L871.2 179.1L871.5 181.0L871.8 177.5L872.0 176.8L872.2 175.3L872.5 174.3L872.8 173.4L873.0 173.7L873.2 170.0L873.5 171.5L873.8 172.6L874.0 171.8L874.2 174.3L874.5 170.9L874.8 175.3L875.0 179.1L875.2 183.3L875.5 183.7L875.8 182.5L876.0 182.6L876.2 183.8L876.5 182.9L876.8 184.9L877.0 182.6L877.2 186.9L877.5 186.0L877.8 186.3L878.0 188.2L878.2 194.2L878.5 191.3L878.8 191.6L879.0 196.0L879.2 187.5L879.5 187.1L879.8 181.9L880.0 180.9L880.2 182.3L880.5 178.9L880.8 180.7L881.0 172.3L881.2 171.1L881.5 166.3L881.8 167.0L882.0 163.1L882.2 162.0L882.5 159.1L882.8 161.1L883.0 160.4L883.2 160.7L883.5 159.6L883.8 156.4L884.0 155.5L884.2 155.4L884.5 157.0L884.8 150.0L885.0 155.6L885.2 152.8L885.5 152.2L885.8 149.4L886.0 145.6L886.2 148.6L886.5 147.8L886.8 145.6L887.0 149.0L887.2 147.9L887.5 145.8L887.8 150.0L888.0 149.3L888.2 148.2L888.5 146.8L888.8 150.1L889.0 145.7L889.2 148.6L889.5 147.9L889.8 147.2L890.0 149.9L890.2 147.4L890.5 149.8L890.8 147.8L891.0 145.8L891.2 143.5L891.5 140.1L891.8 141.7L892.0 143.6L892.2 137.9L892.5 136.7L892.8 134.4L893.0 135.0L893.2 133.4L893.5 131.5L893.8 129.8L894.0 126.2L894.2 128.5L894.5 125.2L894.8 125.1L895.0 123.8L895.2 123.0L895.5 122.9L895.8 119.6L896.0 122.4L896.2 120.9L896.5 118.9L896.8 114.6L897.0 114.4L897.2 112.0L897.5 111.2L897.8 109.9L898.0 106.5L898.2 105.8L898.5 105.8L898.8 107.2L899.0 103.6L899.2 101.2L899.5 99.8L899.8 100.0L900.0 96.8L900.2 95.3L900.5 96.2L900.8 96.1L901.0 92.5L901.2 94.9L901.5 95.2L901.8 93.6L902.0 94.8L902.2 94.6L902.5 91.3L902.8 98.1L903.0 94.1L903.2 95.9L903.5 93.2L903.8 87.1L904.0 89.9L904.2 92.0L904.5 92.2L904.8 91.7L905.0 86.6L905.2 88.5L905.5 90.6L905.8 95.9L906.0 96.4L906.2 95.7L906.5 99.8L906.8 103.4L907.0 105.2L907.2 110.9L907.5 113.0L907.8 114.5L908.0 111.8L908.2 113.6L908.5 115.1L908.8 120.2L909.0 124.7L909.2 123.7L909.5 130.0L909.8 132.7L910.0 128.8L910.2 125.6L910.5 119.5L910.8 116.0L911.0 116.8L911.2 109.3L911.5 108.1L911.8 100.1L912.0 94.3L912.2 98.3L912.5 94.7L912.8 92.5L913.0 93.5L913.2 87.4L913.5 87.7L913.8 88.6L914.0 90.9L914.2 88.7L914.5 94.7L914.8 97.3L915.0 103.4L915.2 104.4L915.5 110.0" fill="none" stroke="#dc4430" stroke-width="11.5" stroke-linejoin="round" stroke-linecap="round"/>
</g>
<path d="M106 33V529.5M915.3 33V529.5" stroke="#353535" stroke-width="2" fill="none"/>
<path d="M105 34H916.3" stroke="#4a4a4a" stroke-width="2" fill="none"/>
<path d="M105 528.5H916.3" stroke="#383838" stroke-width="2" fill="none"/>
<g font-size="25"><text x="85" y="537.3" text-anchor="end">0</text><text x="85" y="438.5" text-anchor="end">10,000</text><text x="85" y="339.7" text-anchor="end">20,000</text><text x="85" y="240.9" text-anchor="end">30,000</text><text x="85" y="142.1" text-anchor="end">40,000</text><text x="85" y="43.3" text-anchor="end">50,000</text><text x="937" y="537.3">0</text><text x="937" y="455.0">500</text><text x="937" y="372.6">1,000</text><text x="937" y="290.3">1,500</text><text x="937" y="208.0">2,000</text><text x="937" y="125.6">2,500</text><text x="937" y="43.3">3,000</text></g>
<g font-size="26" letter-spacing="0.5"><text x="106.0" y="573" text-anchor="middle">04年09月</text><text x="246.0" y="573" text-anchor="middle">07年09月</text><text x="386.0" y="573" text-anchor="middle">10年09月</text><text x="526.0" y="573" text-anchor="middle">13年09月</text><text x="666.0" y="573" text-anchor="middle">16年09月</text><text x="806.0" y="573" text-anchor="middle">19年09月</text></g>
<rect x="266" y="56.3" width="59" height="13.6" fill="#c0c0c0"/>
<line x1="265.8" y1="96.4" x2="325" y2="96.4" stroke="#6a717a" stroke-width="3" stroke-linecap="round"/>
<line x1="265.5" y1="129" x2="325" y2="129" stroke="#dc4430" stroke-width="6" stroke-linecap="round"/>
<g font-size="27" letter-spacing="0.4">
<text x="332" y="74">純資産総額(億円:右軸)</text>
<text x="332" y="106">基準価額(円:左軸)</text>
<text x="332" y="138">基準価額(分配金再投資)(円:左軸)</text>
</g>
</svg>
</body></html>
